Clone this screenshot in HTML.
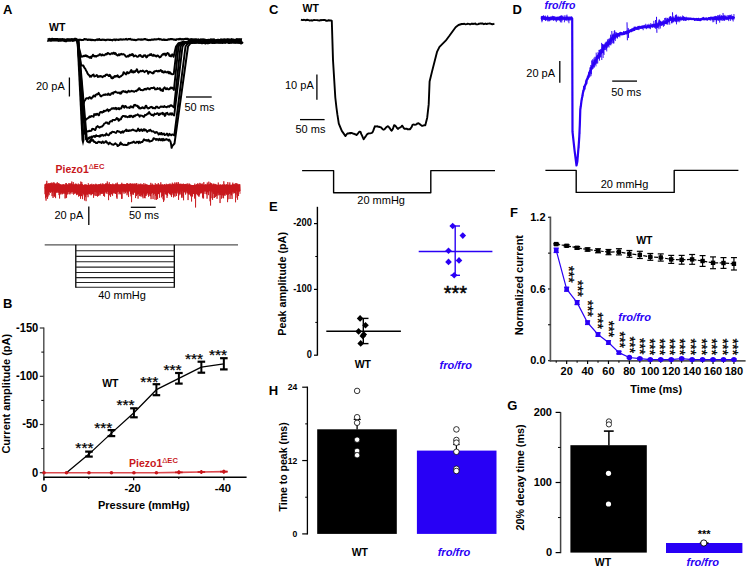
<!DOCTYPE html>
<html><head><meta charset="utf-8"><style>
html,body{margin:0;padding:0;background:#fff;}
body{width:747px;height:567px;overflow:hidden;}
svg{display:block;font-family:"Liberation Sans",sans-serif;}
</style></head><body>
<svg width="747" height="567" viewBox="0 0 747 567">
<rect width="747" height="567" fill="#fff"/>
<text x="3" y="14" font-size="13" font-weight="bold" font-style="normal" fill="#000" text-anchor="start" >A</text>
<text x="49" y="30.5" font-size="10.5" font-weight="bold" font-style="normal" fill="#000" text-anchor="start" >WT</text>
<polyline points="47.5,39.89 48.1,40.13 48.7,39.78 49.3,39.55 49.9,39.71 50.5,40.13 51.1,40.07 51.7,39.67 52.3,39.52 52.9,39.6 53.5,39.89 54.1,39.84 54.7,39.73 55.3,39.69 55.9,39.77 56.5,39.6 57.1,39.68 57.7,39.79 58.3,40.18 58.9,40.01 59.5,40.16 60.1,39.78 60.7,39.99 61.3,39.96 61.9,39.78 62.5,39.79 63.1,40.02 63.7,39.87 64.3,40.1 64.9,40.36 65.5,40.53 66.1,40.64 66.7,40.03 67.3,40.04 67.9,39.81 68.5,40.06 69.1,40 69.7,40 70.3,40.06 70.9,39.85 71.5,39.89 72.1,39.72 72.7,40.28 73.3,40.02 73.9,39.98 74.5,39.54 75.1,39.34 75.7,39.37 76.3,39.78 76.9,40.02 77.5,40.05" fill="none" stroke="#000" stroke-width="3.4" stroke-linejoin="round" />
<polyline points="77,39.76 77.6,40.26 78.2,39.88 78.8,39.69 79.4,39.89 80,39.66 80.6,39.82 81.2,40.08 81.8,39.99 82.4,40.04 83,39.99 83.6,39.79 84.2,39.08 84.8,39.11 85.4,39.42 86,39.21 86.6,39.34 87.2,39.6 87.8,40.02 88.4,39.63 89,39.6 89.6,39.75 90.2,39.92 90.8,39.56 91.4,40.12 92,39.81 92.6,40.08 93.2,39.94 93.8,39.99 94.4,40.32 95,40.29 95.6,40.14 96.2,39.77 96.8,39.64 97.4,39.37 98,40.03 98.6,39.57 99.2,39.05 99.8,39.74 100.4,40.07 101,39.88 101.6,40.04 102.2,39.75 102.8,39.63 103.4,39.81 104,39.89 104.6,39.74 105.2,40.14 105.8,40.17 106.4,40.04 107,39.65 107.6,39.73 108.2,39.67 108.8,39.69 109.4,39.9 110,39.71 110.6,39.79 111.2,39.96 111.8,39.96 112.4,40.42 113,39.73 113.6,39.72 114.2,39.44 114.8,39.54 115.4,40.21 116,39.63 116.6,39.59 117.2,39.8 117.8,39.79 118.4,39.97 119,39.5 119.6,39.81 120.2,39.54 120.8,39.31 121.4,39.6 122,39.75 122.6,39.55 123.2,39.41 123.8,39.47 124.4,39.55 125,39.56 125.6,39.36 126.2,38.93 126.8,39.54 127.4,39.63 128,39.34 128.6,39.09 129.2,39.15 129.8,39.25 130.4,38.9 131,39.53 131.6,39.67 132.2,39.58 132.8,39.69 133.4,39.72 134,39.93 134.6,39.85 135.2,40.06 135.8,40.25 136.4,39.92 137,39.69 137.6,39.44 138.2,39.45 138.8,39.34 139.4,39.44 140,39.58 140.6,39.71 141.2,39.39 141.8,39.72 142.4,39.59 143,39.56 143.6,39.44 144.2,39.02 144.8,39.3 145.4,38.98 146,39.48 146.6,39.52 147.2,39.91 147.8,39.92 148.4,39.94 149,40.12 149.6,39.88 150.2,40.11 150.8,39.85 151.4,39.79 152,39.52 152.6,39.66 153.2,39.76 153.8,39.55 154.4,39.23 155,39.34 155.6,39.51 156.2,39.47 156.8,39.25 157.4,39.18 158,39.25 158.6,38.72 159.2,38.89 159.8,39.47 160.4,39.17 161,39.25 161.6,39.74 162.2,39.81 162.8,39.9 163.4,39.69 164,39.29 164.6,40.05 165.2,39.89 165.8,39.77 166.4,40.04 167,40 167.6,39.79 168.2,39.39 168.8,39.38 169.4,39.37 170,39.24 170.6,39.11 171.2,39 171.8,39.14 172.4,39.12 173,39.34 173.6,39.61 174.2,39.61 174.8,39.54 175.4,39.86 176,39.84 176.6,39.31 177.2,39.18 177.8,39.31 178.4,39.14 179,39.43 179.6,39 180.2,38.71 180.8,39.23 181.4,39.44 182,39.05 182.6,39.22 183.2,39.62 183.8,39.28 184.4,39.05 185,38.91 185.6,38.88 186.2,38.69 186.8,38.87 187.4,38.75 188,39.04 188.6,39.73 189.2,39.36 189.8,39.61 190.4,39.82 191,39.12 191.6,39.28 192.2,39.34 192.8,39.31 193.4,39.56 194,39.41 194.6,39.51 195.2,39.4 195.8,39.39 196.4,39.23 197,39.87 197.6,39.69 198.2,39.34 198.8,39.85 199.4,40.08 200,39.79 200.6,39.51 201.2,39.32 201.8,39.68 202.4,39.52 203,39.33 203.6,39.6 204.2,39.49 204.8,39.47 205.4,39.94 206,39.97 206.6,40.08 207.2,39.94 207.8,40.07 208.4,39.8 209,39.91 209.6,40 210.2,39.7 210.8,39.32 211.4,39.52 212,39.49 212.6,39.64 213.2,39.45 213.8,39.6 214.4,39.8 215,40.25 215.6,40.39 216.2,40.13 216.8,40.23 217.4,39.8 218,39.97 218.6,39.83 219.2,40.03 219.8,39.91 220.4,39.71 221,39.47 221.6,39.8 222.2,39.71 222.8,39.81 223.4,39.82 224,39.22 224.6,39.5 225.2,39.43 225.8,39.57 226.4,39.68 227,39.2 227.6,39.27 228.2,39.37 228.8,39.54 229.4,39.77 230,39.53 230.6,39.49 231.2,39.67 231.8,39.19 232.4,39.79 233,39.48 233.6,39.83 234.2,39.77 234.8,40.14 235.4,40.17 236,39.93 236.6,39.39 237.2,39.5 237.8,39.61 238.4,39.73 239,39.38 239.6,39.27 240.2,39.21 240.8,39.44 241.4,39.29 242,39.39" fill="none" stroke="#000" stroke-width="2.1" stroke-linejoin="round" />
<polyline points="77,39.9 81,55.85 81.6,56.77 82.2,56.46 82.8,56.42 83.4,55.82 84,56.29 84.6,56.15 85.2,55.3 85.8,56.09 86.4,55.5 87,56.44 87.6,56.08 88.2,56.82 88.8,56.89 89.4,57.62 90,57.22 90.6,56.68 91.2,58.07 91.8,56.31 92.4,56.27 93,54.71 93.6,55.59 94.2,56.47 94.8,56.06 95.4,56.03 96,56.72 96.6,55.93 97.2,55.93 97.8,55.57 98.4,55.45 99,55.34 99.6,54.24 100.2,54.13 100.8,54.76 101.4,55.58 102,54.72 102.6,54.55 103.2,55.34 103.8,55.15 104.4,55.38 105,54.73 105.6,54.01 106.2,53.99 106.8,54.49 107.4,53.14 108,52.92 108.6,53.56 109.2,53.72 109.8,54.25 110.4,54.2 111,53.75 111.6,53.16 112.2,53.54 112.8,53.81 113.4,52.8 114,52.66 114.6,53.86 115.2,52.95 115.8,53.43 116.4,54.79 117,54.86 117.6,55.51 118.2,55.24 118.8,54.31 119.4,55.16 120,54.22 120.6,54.59 121.2,53.72 121.8,54.35 122.4,54.47 123,54.2 123.6,54.1 124.2,54.64 124.8,55.08 125.4,56.07 126,56.7 126.6,56.75 127.2,56.46 127.8,55.8 128.4,56.53 129,56.01 129.6,54.71 130.2,55.47 130.8,55.05 131.4,54.35 132,55.2 132.6,54.06 133.2,54.83 133.8,56.46 134.4,56 135,55.73 135.6,55.44 136.2,55.95 136.8,56.64 137.4,56.8 138,56.61 138.6,56.28 139.2,55.17 139.8,55.46 140.4,55.11 141,56.03 141.6,56.75 142.2,56.29 142.8,57.03 143.4,56.41 144,55.31 144.6,55.5 145.2,55.27 145.8,56.5 146.4,57.41 147,57.16 147.6,55.63 148.2,55.4 148.8,55.55 149.4,55.03 150,54.35 150.6,54.98 151.2,53.99 151.8,55.45 152.4,55.71 153,55.94 153.6,54.69 154.2,55.51 154.8,55.86 155.4,55.61 156,56.34 156.6,56.49 157.2,55.5 157.8,55.39 158.4,56.06 159,56.61 159.6,57.43 160.2,57.16 160.8,56.77 161.4,55.74 162,55.06 162.6,54.56 163.2,53.86 163.8,54.42 164.4,54.02 165,53.55 165.6,55.51 166.2,54.99 166.8,53.85 167.4,52.93 168,53.45 168.6,53.52 169.2,55.57 169.8,55.98 170.4,55.39 171,56.35 171.6,55.51 172.2,54.39 173.6,56.8 176,46.5 178.5,43.2 182.5,42.2 182.5,41.88 183.1,42.33 183.7,42.23 184.3,42.11 184.9,41.82 185.5,42.37 186.1,42.22 186.7,41.83 187.3,42.14 187.9,42.12 188.5,42.28 189.1,42.12 189.7,42.24 190.3,42.34 190.9,42.27 191.5,41.77 192.1,42.07 192.7,42.48 193.3,42.47 193.9,42.6 194.5,42.64 195.1,42.36 195.7,42.57 196.3,42.33 196.9,41.98 197.5,41.69 198.1,42.16 198.7,42.35 199.3,42.44 199.9,42.16 200.5,41.64 201.1,42.05 201.7,42.06 202.3,41.92 202.9,41.83 203.5,41.79 204.1,41.4 204.7,41.86 205.3,42.16 205.9,42.38 206.5,42.17 207.1,41.8 207.7,41.54 208.3,41.68 208.9,42.33 209.5,42.5 210.1,42.35 210.7,42.38 211.3,42.49 211.9,42.35 212.5,42.31 213.1,42.28 213.7,42.04 214.3,41.74 214.9,41.72 215.5,42.19 216.1,41.7 216.7,41.73 217.3,41.75 217.9,41.89 218.5,41.84 219.1,42.15 219.7,42.01 220.3,42.03 220.9,42.24 221.5,41.78 222.1,42.19 222.7,42.42 223.3,41.91 223.9,41.94 224.5,41.78 225.1,41.79 225.7,42.11 226.3,41.56 226.9,41.99 227.5,42.13 228.1,42.09 228.7,42.68 229.3,42.29 229.9,41.77 230.5,41.98 231.1,42.04 231.7,41.86 232.3,41.34 232.9,41.09 233.5,41.91 234.1,41.54 234.7,42.11 235.3,42.3 235.9,41.58 236.5,41.8 237.1,42.06 237.7,42.35 238.3,42.58 238.9,42.7 239.5,42.41 240.1,42.18 240.7,42.05 241.3,42.17 241.9,41.84" fill="none" stroke="#000" stroke-width="1.95" stroke-linejoin="round" />
<polyline points="77.2,39.9 81,64.23 81.6,65.51 82.2,65.42 82.8,65.56 83.4,65.57 84,67.03 84.6,68.14 85.2,68.56 85.8,69.96 86.4,71.08 87,72.02 87.6,73.54 88.2,74.5 88.8,74.86 89.4,75.64 90,76.71 90.6,75.8 91.2,76.63 91.8,75.86 92.4,75.09 93,75.13 93.6,74.52 94.2,76.44 94.8,76.33 95.4,76.13 96,75.71 96.6,75.08 97.2,75.43 97.8,76.97 98.4,76.28 99,76.83 99.6,76.28 100.2,75.94 100.8,76.53 101.4,76.22 102,76.72 102.6,77.18 103.2,76.49 103.8,76.02 104.4,76.07 105,76.24 105.6,74.82 106.2,75.01 106.8,74.39 107.4,74.57 108,75.23 108.6,76.03 109.2,76.1 109.8,74.78 110.4,75.58 111,77.04 111.6,78.17 112.2,78.38 112.8,77.24 113.4,77.85 114,76.87 114.6,76.04 115.2,76.76 115.8,75.88 116.4,76 117,76.54 117.6,75.26 118.2,76.3 118.8,77.01 119.4,77.26 120,76.79 120.6,76.27 121.2,76.2 121.8,75.38 122.4,75.15 123,74.21 123.6,72.14 124.2,72.49 124.8,73.52 125.4,73.62 126,74.39 126.6,73.23 127.2,72.02 127.8,73.21 128.4,73.34 129,72.44 129.6,72.67 130.2,71.96 130.8,70.51 131.4,70.02 132,72.17 132.6,71.55 133.2,72.58 133.8,71.23 134.4,72.16 135,71.93 135.6,70.84 136.2,70.88 136.8,69.17 137.4,70.31 138,72.06 138.6,72.64 139.2,71.9 139.8,71.49 140.4,70.85 141,71.33 141.6,71.15 142.2,71.15 142.8,70.55 143.4,70.97 144,71.77 144.6,72.13 145.2,71.57 145.8,71.15 146.4,70.63 147,70.9 147.6,71.49 148.2,73.87 148.8,72.72 149.4,71.75 150,71.79 150.6,72.12 151.2,72.56 151.8,72.79 152.4,73.4 153,72.58 153.6,73.32 154.2,71.36 154.8,71.3 155.4,71.36 156,70.95 156.6,70.81 157.2,71.11 157.8,71.56 158.4,70.73 159,71.22 159.6,71.24 160.2,70.45 160.8,69.98 161.4,70.95 162,71.87 162.6,71.09 163.2,72.48 163.8,72.5 164.4,72.37 165,71.33 165.6,72.18 166.2,72.44 166.8,72.19 167.4,72.24 168,71.64 168.6,73.29 169.2,73.08 169.8,72.11 170.4,73.62 171,73.26 171.6,73.97 172.2,74.35 173.75,74 177,46.5 179.5,43.2 183.5,42.2 183.5,42.7 184.1,42.72 184.7,43 185.3,42.49 185.9,42.67 186.5,42.63 187.1,42.3 187.7,41.86 188.3,41.92 188.9,41.77 189.5,41.8 190.1,41.8 190.7,41.76 191.3,41.94 191.9,42.06 192.5,41.82 193.1,41.73 193.7,41.95 194.3,41.88 194.9,41.85 195.5,41.7 196.1,41.36 196.7,41.59 197.3,41.52 197.9,41.73 198.5,41.8 199.1,41.81 199.7,42.18 200.3,41.92 200.9,42.32 201.5,42.33 202.1,42.98 202.7,42.38 203.3,42.08 203.9,42.2 204.5,42.38 205.1,42.19 205.7,42.37 206.3,42.29 206.9,41.81 207.5,42.01 208.1,42.28 208.7,42.32 209.3,42.2 209.9,41.91 210.5,42.18 211.1,42.55 211.7,41.97 212.3,42.19 212.9,41.64 213.5,41.87 214.1,41.2 214.7,41.5 215.3,41.91 215.9,41.57 216.5,41.39 217.1,41.69 217.7,41.77 218.3,41.97 218.9,42.39 219.5,41.93 220.1,42.04 220.7,41.5 221.3,40.87 221.9,41.07 222.5,40.69 223.1,41.37 223.7,41.88 224.3,42.09 224.9,41.61 225.5,41.56 226.1,41.27 226.7,41.52 227.3,41.43 227.9,41.98 228.5,42.11 229.1,41.72 229.7,42.25 230.3,42.22 230.9,42.38 231.5,42.24 232.1,42.52 232.7,42.63 233.3,42.61 233.9,42.76 234.5,42.64 235.1,42.48 235.7,42.08 236.3,41.45 236.9,42.03 237.5,42.19 238.1,41.81 238.7,42.12 239.3,42.12 239.9,42.1 240.5,42.58 241.1,42.63 241.7,41.99" fill="none" stroke="#000" stroke-width="1.95" stroke-linejoin="round" />
<polyline points="77.4,39.9 82.5,104.26 83.1,104.3 83.7,103.06 84.3,101.15 84.9,100.43 85.5,99.54 86.1,98.43 86.7,98.29 87.3,98.25 87.9,98.25 88.5,98.64 89.1,97.57 89.7,97.15 90.3,97.5 90.9,98.46 91.5,98.61 92.1,97.46 92.7,97.27 93.3,96.02 93.9,95.43 94.5,95.99 95.1,96.59 95.7,94.94 96.3,94.55 96.9,94.19 97.5,94.52 98.1,93.6 98.7,92.9 99.3,94.31 99.9,94.9 100.5,96.15 101.1,96.48 101.7,95.65 102.3,95.63 102.9,95.31 103.5,94.69 104.1,94.69 104.7,95.01 105.3,94.32 105.9,94.79 106.5,94.6 107.1,94.35 107.7,94.89 108.3,93.53 108.9,94.08 109.5,94.87 110.1,94.99 110.7,94.57 111.3,93.35 111.9,93.36 112.5,92.77 113.1,93.83 113.7,92.6 114.3,92.11 114.9,92.37 115.5,91.55 116.1,92.06 116.7,92.32 117.3,92.74 117.9,92.93 118.5,92.73 119.1,92.49 119.7,93.37 120.3,92.42 120.9,93.61 121.5,92.88 122.1,91.46 122.7,91.69 123.3,91.01 123.9,91.41 124.5,91.41 125.1,92.07 125.7,91.4 126.3,92.4 126.9,92.59 127.5,91.81 128.1,91.39 128.7,90.73 129.3,91.56 129.9,91.69 130.5,91.47 131.1,91.27 131.7,90.82 132.3,91.3 132.9,91.32 133.5,91.31 134.1,91.91 134.7,91.35 135.3,91.18 135.9,90.78 136.5,91.24 137.1,90.45 137.7,89.55 138.3,89.78 138.9,88.28 139.5,88.33 140.1,89.4 140.7,90.11 141.3,89.94 141.9,90.06 142.5,90.31 143.1,90.19 143.7,89.91 144.3,88.92 144.9,89.19 145.5,88.8 146.1,89.49 146.7,89.38 147.3,88.32 147.9,88.2 148.5,88.33 149.1,89.18 149.7,89.32 150.3,88.51 150.9,88.11 151.5,87.91 152.1,88.25 152.7,87.9 153.3,87.97 153.9,87.4 154.5,87.99 155.1,89.46 155.7,89.21 156.3,89.38 156.9,89.17 157.5,88.06 158.1,88.87 158.7,88.88 159.3,88.69 159.9,88.13 160.5,90.19 161.1,89.57 161.7,90.57 162.3,89.69 162.9,91.01 163.5,88.44 164.1,88.02 164.7,87.39 165.3,88.39 165.9,89.22 166.5,89.03 167.1,88.18 167.7,89.01 168.3,89.22 168.9,89.47 169.5,89.22 170.1,88.11 170.7,87.62 171.3,88.29 171.9,87.51 172.5,87.86 173.9,90 178.5,46.5 181,43.2 185,42.2 185,42.15 185.6,42.31 186.2,42.15 186.8,42.48 187.4,42.32 188,41.85 188.6,41.66 189.2,42 189.8,41.81 190.4,41.48 191,41.88 191.6,41.99 192.2,42.3 192.8,42.65 193.4,42.04 194,42.21 194.6,41.96 195.2,41.97 195.8,42.16 196.4,42.2 197,42.1 197.6,42.15 198.2,42.21 198.8,41.29 199.4,41.88 200,42.18 200.6,42.26 201.2,42.16 201.8,42.58 202.4,42.3 203,42.37 203.6,42.06 204.2,41.52 204.8,41.82 205.4,42.03 206,41.52 206.6,42.12 207.2,42.26 207.8,42.26 208.4,41.91 209,41.62 209.6,41.73 210.2,41.91 210.8,41.87 211.4,41.92 212,42.08 212.6,42.13 213.2,42.24 213.8,42.13 214.4,41.6 215,41.88 215.6,42.05 216.2,42.33 216.8,42.33 217.4,41.88 218,42.08 218.6,42.41 219.2,42.79 219.8,42.49 220.4,42.38 221,42.24 221.6,42.48 222.2,42.43 222.8,43 223.4,42.68 224,42.34 224.6,42.57 225.2,42.58 225.8,42.16 226.4,42.13 227,41.94 227.6,41.56 228.2,41.91 228.8,41.78 229.4,41.92 230,42.14 230.6,41.89 231.2,42.16 231.8,41.98 232.4,42.07 233,41.92 233.6,41.65 234.2,41.19 234.8,41.32 235.4,41.39 236,42.37 236.6,42.14 237.2,42.18 237.8,41.93 238.4,42.29 239,42.38 239.6,42.3 240.2,42.25 240.8,41.52 241.4,41.48 242,41.62" fill="none" stroke="#000" stroke-width="1.95" stroke-linejoin="round" />
<polyline points="77.6,39.9 84,122.22 84.6,120.85 85.2,120.86 85.8,119.52 86.4,119.4 87,118.71 87.6,118.4 88.2,117.93 88.8,117.66 89.4,116.43 90,117.17 90.6,116.87 91.2,115.91 91.8,116.08 92.4,116.33 93,116.2 93.6,116.76 94.2,114.11 94.8,114.93 95.4,114.15 96,115.06 96.6,113.86 97.2,113.73 97.8,114.18 98.4,115.21 99,115.29 99.6,113.11 100.2,112.15 100.8,111.96 101.4,111.91 102,112.67 102.6,112 103.2,112.1 103.8,110.73 104.4,111.53 105,110.84 105.6,110.62 106.2,110.66 106.8,110 107.4,109.22 108,110.13 108.6,111.14 109.2,110.01 109.8,110.26 110.4,109.6 111,109.27 111.6,108.47 112.2,108.32 112.8,108.8 113.4,108.1 114,108.18 114.6,108.77 115.2,108.14 115.8,107.78 116.4,109.3 117,108.36 117.6,108.84 118.2,108.9 118.8,108.01 119.4,109.26 120,108.48 120.6,108.34 121.2,108.47 121.8,106.94 122.4,105.71 123,105.76 123.6,106.97 124.2,107.71 124.8,106.3 125.4,105.93 126,106.53 126.6,107.6 127.2,107.62 127.8,107.62 128.4,107.48 129,107.67 129.6,108.02 130.2,106.75 130.8,106.25 131.4,106.63 132,107.3 132.6,106.94 133.2,107.5 133.8,105.26 134.4,105.49 135,104.73 135.6,105.63 136.2,105.57 136.8,105.93 137.4,105.72 138,107.24 138.6,106.53 139.2,108.41 139.8,107.87 140.4,108.45 141,108.37 141.6,107.73 142.2,107.52 142.8,107.21 143.4,108.16 144,108.36 144.6,108.27 145.2,106.76 145.8,105.65 146.4,105.96 147,107.66 147.6,107.75 148.2,108.55 148.8,108.03 149.4,108.12 150,107.37 150.6,107.05 151.2,107.14 151.8,106.84 152.4,107.89 153,108.35 153.6,107.77 154.2,107.87 154.8,108.39 155.4,108.37 156,106.76 156.6,106.67 157.2,106.61 157.8,107.56 158.4,107.84 159,107.94 159.6,107.43 160.2,106.95 160.8,106.4 161.4,106.74 162,106.91 162.6,106.57 163.2,106.76 163.8,107.02 164.4,106.05 165,106.73 165.6,106.92 166.2,106.98 166.8,107.22 167.4,106.66 168,106.17 168.6,106.14 169.2,106.86 169.8,106.15 170.4,105.28 171,105.76 171.6,105.3 172.2,105.94 174.05,107.4 180.5,46.5 183,43.2 187,42.2 187,41.93 187.6,42.26 188.2,41.87 188.8,42.16 189.4,41.87 190,41.91 190.6,42.44 191.2,42.25 191.8,42.26 192.4,42.06 193,42.16 193.6,42.36 194.2,42.38 194.8,42.7 195.4,42.37 196,41.95 196.6,42.18 197.2,41.9 197.8,42.24 198.4,42.17 199,42.71 199.6,42.57 200.2,42.11 200.8,41.87 201.4,41.89 202,42.06 202.6,41.56 203.2,41.91 203.8,41.94 204.4,42.18 205,42.05 205.6,42.31 206.2,42.42 206.8,42.22 207.4,42.07 208,41.64 208.6,41.25 209.2,41.69 209.8,41.35 210.4,41.79 211,42.13 211.6,42.13 212.2,42.39 212.8,42.97 213.4,42 214,42.01 214.6,42.4 215.2,41.7 215.8,41.39 216.4,41.53 217,41.8 217.6,42.04 218.2,42.15 218.8,42 219.4,42.05 220,42 220.6,41.86 221.2,42.37 221.8,42.37 222.4,41.79 223,42.01 223.6,41.79 224.2,41.77 224.8,42.38 225.4,42.49 226,42.22 226.6,41.96 227.2,42.34 227.8,42.42 228.4,42.69 229,42.23 229.6,42.94 230.2,42.16 230.8,42.24 231.4,42.29 232,42.05 232.6,42.07 233.2,41.54 233.8,41.79 234.4,41.85 235,42.43 235.6,42.25 236.2,42.67 236.8,42.54 237.4,42.39 238,42.59 238.6,42.46 239.2,42.71 239.8,42.49 240.4,41.77 241,42.16 241.6,41.7" fill="none" stroke="#000" stroke-width="1.95" stroke-linejoin="round" />
<polyline points="77.8,39.9 85,133.86 85.6,132.68 86.2,131.26 86.8,131.09 87.4,131.51 88,131.41 88.6,131.3 89.2,130.65 89.8,130.94 90.4,130.91 91,130.81 91.6,130.53 92.2,128.83 92.8,128.9 93.4,128.95 94,129.27 94.6,129.76 95.2,129.98 95.8,128.8 96.4,126.98 97,126.83 97.6,126 98.2,126.78 98.8,127 99.4,127.66 100,127.37 100.6,126.86 101.2,126.7 101.8,126.56 102.4,126.31 103,125.41 103.6,124.88 104.2,123.68 104.8,123.43 105.4,123.05 106,122.37 106.6,122.79 107.2,122.51 107.8,123.49 108.4,123.74 109,123.81 109.6,122.08 110.2,121.58 110.8,121.17 111.4,121.2 112,121.42 112.6,119.87 113.2,119.87 113.8,119.89 114.4,120.17 115,120.01 115.6,119.65 116.2,119.07 116.8,117.97 117.4,118.93 118,118.66 118.6,120.73 119.2,120.46 119.8,119.5 120.4,118.9 121,119.14 121.6,117.2 122.2,116.98 122.8,115.9 123.4,116.08 124,116.07 124.6,116.2 125.2,116.78 125.8,116.11 126.4,116.85 127,116.79 127.6,117.18 128.2,116.88 128.8,116.59 129.4,115.81 130,116.96 130.6,115.82 131.2,115.68 131.8,116.34 132.4,116.76 133,117.25 133.6,115.9 134.2,115.82 134.8,116.33 135.4,115.32 136,115.25 136.6,115.11 137.2,114.88 137.8,114.31 138.4,115.2 139,115.26 139.6,116.7 140.2,115.56 140.8,115.57 141.4,115.63 142,115.67 142.6,116.3 143.2,116.18 143.8,116.9 144.4,116.05 145,114.88 145.6,115.33 146.2,114.85 146.8,114.54 147.4,113.68 148,113.73 148.6,112.52 149.2,112.15 149.8,113.56 150.4,113.75 151,114.5 151.6,115.11 152.2,114.7 152.8,114.92 153.4,115.73 154,115 154.6,113.61 155.2,114.17 155.8,114.12 156.4,114.05 157,113.21 157.6,113.23 158.2,113.87 158.8,114.99 159.4,114.77 160,113.61 160.6,114.14 161.2,113.58 161.8,113.47 162.4,112.79 163,114.31 163.6,113.4 164.2,113.98 164.8,115.93 165.4,115.44 166,113.32 166.6,113.21 167.2,112.73 167.8,113.99 168.4,114.47 169,114.45 169.6,114.63 170.2,113.33 170.8,113.51 171.4,114.67 172,113.26 172.6,114.25 174.2,115.5 182.5,46.5 185,43.2 189,42.2 189,42.19 189.6,42.53 190.2,42.15 190.8,42.26 191.4,42.27 192,41.76 192.6,42.01 193.2,41.76 193.8,42.06 194.4,42.36 195,42.57 195.6,42.19 196.2,42.32 196.8,42.35 197.4,42.64 198,42.61 198.6,42.13 199.2,41.86 199.8,41.76 200.4,41.81 201,41.53 201.6,42.5 202.2,42.41 202.8,42.21 203.4,42.19 204,42.09 204.6,41.64 205.2,41.59 205.8,42.09 206.4,42.55 207,42.49 207.6,42.11 208.2,41.67 208.8,41.23 209.4,41.69 210,41.84 210.6,41.96 211.2,42.23 211.8,42.31 212.4,42.26 213,42.4 213.6,42.62 214.2,42.63 214.8,42.91 215.4,42.17 216,41.94 216.6,42.26 217.2,41.82 217.8,41.87 218.4,41.91 219,41.69 219.6,42.09 220.2,42.11 220.8,42.52 221.4,42.37 222,42.61 222.6,42.32 223.2,42.09 223.8,41.74 224.4,42.04 225,42.02 225.6,41.81 226.2,41.8 226.8,41.71 227.4,41.9 228,42.01 228.6,41.78 229.2,41.82 229.8,42.46 230.4,42.47 231,42.32 231.6,42.58 232.2,42.18 232.8,42.16 233.4,42.25 234,41.92 234.6,41.49 235.2,42.37 235.8,42.22 236.4,42.14 237,41.97 237.6,42.06 238.2,41.75 238.8,41.79 239.4,41.87 240,42.26 240.6,42.18 241.2,41.97 241.8,41.81" fill="none" stroke="#000" stroke-width="1.95" stroke-linejoin="round" />
<polyline points="78,39.9 86,139.24 86.6,139.71 87.2,140.59 87.8,138.98 88.4,137.85 89,138.49 89.6,137.35 90.2,137.75 90.8,137.65 91.4,136.57 92,137.89 92.6,136.42 93.2,136.43 93.8,135.9 94.4,135.89 95,136.94 95.6,135.75 96.2,135.24 96.8,136.18 97.4,135.99 98,135.99 98.6,136.35 99.2,135.89 99.8,136.76 100.4,135.2 101,135.88 101.6,135.06 102.2,134.76 102.8,135.17 103.4,135.7 104,135.26 104.6,135.07 105.2,135.4 105.8,134.91 106.4,133.44 107,134.41 107.6,134.86 108.2,135.18 108.8,135.24 109.4,134.39 110,133.2 110.6,132.79 111.2,133.21 111.8,132.24 112.4,131.62 113,131.85 113.6,131.91 114.2,132.01 114.8,132.31 115.4,132.54 116,132.92 116.6,132.04 117.2,131 117.8,131.07 118.4,131.35 119,131.79 119.6,131.59 120.2,132.19 120.8,132.89 121.4,132.02 122,132.33 122.6,131.26 123.2,132.61 123.8,131.88 124.4,131.12 125,130.78 125.6,130.63 126.2,129.6 126.8,131.08 127.4,130.35 128,130.44 128.6,131.06 129.2,130.34 129.8,130.71 130.4,130.51 131,130.5 131.6,130.22 132.2,130 132.8,129.58 133.4,129.78 134,130.4 134.6,130.45 135.2,130.57 135.8,130.98 136.4,131.25 137,130.85 137.6,129.85 138.2,128.52 138.8,130.13 139.4,130.94 140,130.06 140.6,130.57 141.2,129.39 141.8,130.28 142.4,130.94 143,130.31 143.6,129.32 144.2,130.52 144.8,129.29 145.4,129.97 146,130.06 146.6,131.32 147.2,131.89 147.8,130.91 148.4,130.82 149,130.32 149.6,130.84 150.2,129.68 150.8,130.51 151.4,130.87 152,131.41 152.6,131.39 153.2,131.29 153.8,131.79 154.4,132.26 155,133.02 155.6,132.2 156.2,132.42 156.8,132.08 157.4,132.75 158,133.2 158.6,134.52 159.2,133.52 159.8,133.25 160.4,134.22 161,133.23 161.6,132.99 162.2,134.56 162.8,134.12 163.4,133.75 164,133.56 164.6,135.03 165.2,134.87 165.8,134.59 166.4,134.58 167,133.51 167.6,134.71 168.2,135.65 168.8,135.38 169.4,133.85 170,134.28 170.6,134.65 171.2,135.27 171.8,134.59 172.4,134.4 174.35,135.4 185.5,46.5 188,43.2 192,42.2 192,41.95 192.6,41.89 193.2,41.83 193.8,41.67 194.4,41.88 195,42.19 195.6,42.29 196.2,42.3 196.8,42.19 197.4,41.94 198,42.1 198.6,42.13 199.2,42.39 199.8,41.99 200.4,42.17 201,42.65 201.6,42.53 202.2,42.32 202.8,42.42 203.4,42.7 204,42.51 204.6,42.15 205.2,41.9 205.8,42.02 206.4,41.67 207,42.22 207.6,41.83 208.2,41.77 208.8,42.43 209.4,41.97 210,41.99 210.6,41.98 211.2,41.53 211.8,42.31 212.4,42.16 213,42.15 213.6,41.97 214.2,41.71 214.8,41.82 215.4,41.58 216,41.73 216.6,42.14 217.2,42.32 217.8,42.45 218.4,42.15 219,42.12 219.6,42.48 220.2,42.45 220.8,41.99 221.4,41.66 222,41.71 222.6,41.88 223.2,41.72 223.8,41.83 224.4,42.09 225,41.97 225.6,42.15 226.2,41.74 226.8,41.76 227.4,42.24 228,42.37 228.6,42.33 229.2,42.2 229.8,42.06 230.4,41.49 231,41.49 231.6,42.18 232.2,42.01 232.8,42.13 233.4,41.88 234,41.8 234.6,42.06 235.2,42.15 235.8,42.15 236.4,42.28 237,42.24 237.6,42.02 238.2,42.25 238.8,41.63 239.4,41.84 240,41.7 240.6,42.05 241.2,42.13 241.8,41.79" fill="none" stroke="#000" stroke-width="1.95" stroke-linejoin="round" />
<polyline points="78.2,39.9 87,141.18 87.6,141.8 88.2,142.2 88.8,142.2 89.4,141.4 90,142.39 90.6,139.96 91.2,139.14 91.8,140.84 92.4,140.48 93,139.94 93.6,140.99 94.2,142.06 94.8,141.81 95.4,142.25 96,143.05 96.6,142.69 97.2,143.02 97.8,142.39 98.4,141.7 99,141.76 99.6,142.17 100.2,142.15 100.8,142.18 101.4,143.04 102,142.7 102.6,141.45 103.2,142.19 103.8,142.92 104.4,142.66 105,142.13 105.6,141.29 106.2,141.24 106.8,142.65 107.4,142.6 108,143.14 108.6,144.13 109.2,143.42 109.8,142.58 110.4,143.27 111,143.59 111.6,143.82 112.2,144.53 112.8,144.62 113.4,144.81 114,144.44 114.6,144.04 115.2,143.33 115.8,143.85 116.4,144.25 117,144.67 117.6,146.06 118.2,145.9 118.8,145.22 119.4,145.11 120,143.73 120.6,142.47 121.2,144.3 121.8,143.75 122.4,144.25 123,144.74 123.6,144.92 124.2,144.91 124.8,144.67 125.4,144.96 126,144.93 126.6,145.12 127.2,144.72 127.8,144.59 128.4,142.83 129,143.31 129.6,143.45 130.2,142.99 130.8,142.95 131.4,142.75 132,142.84 132.6,142.18 133.2,141.84 133.8,141.48 134.4,142.65 135,142.69 135.6,142.92 136.2,142.64 136.8,141.74 137.4,142.05 138,142.09 138.6,143.12 139.2,141.62 139.8,142.21 140.4,142.72 141,142.2 141.6,142.07 142.2,142.04 142.8,141.31 143.4,140.34 144,139.36 144.6,139.61 145.2,140.41 145.8,140.21 146.4,140.07 147,140.77 147.6,140.7 148.2,139.67 148.8,140.04 149.4,141.61 150,141.48 150.6,141.17 151.2,141.11 151.8,140.78 152.4,140.59 153,139.51 153.6,138.15 154.2,138.45 154.8,138.58 155.4,139.21 156,140 156.6,138.98 157.2,139.21 157.8,139.22 158.4,140.3 159,139.32 159.6,138.79 160.2,140.07 160.8,140.21 161.4,139.09 162,139.29 162.6,140.46 163.2,138.85 163.8,140.2 164.4,140.24 165,139.45 165.6,139.83 166.2,139.12 166.8,139.54 167.4,139.44 168,139.91 168.6,140.72 169.2,139.5 169.8,140.56 170.4,141.19 171,143.69 171.6,147.84 172.2,146.13 174.5,143.5 188,46.5 190.5,43.2 194.5,42.2 194.5,41.9 195.1,42.37 195.7,42.23 196.3,42.12 196.9,42.01 197.5,42.4 198.1,42.6 198.7,42.35 199.3,42.48 199.9,41.88 200.5,42 201.1,41.86 201.7,42.29 202.3,42.63 202.9,42.5 203.5,42.68 204.1,42.14 204.7,42.33 205.3,42.44 205.9,42.26 206.5,42.65 207.1,42.66 207.7,42.5 208.3,42.71 208.9,42.42 209.5,42.86 210.1,42.22 210.7,41.8 211.3,41.82 211.9,42.09 212.5,42.01 213.1,41.9 213.7,42.75 214.3,42.83 214.9,42.61 215.5,42.31 216.1,42.13 216.7,42.18 217.3,42.5 217.9,42.48 218.5,42.52 219.1,41.67 219.7,42.07 220.3,41.92 220.9,42.39 221.5,42.35 222.1,42.1 222.7,42.1 223.3,42.1 223.9,42.26 224.5,42.41 225.1,42.17 225.7,42.49 226.3,42.26 226.9,42.09 227.5,41.6 228.1,41.87 228.7,42.48 229.3,42.42 229.9,42.22 230.5,42.06 231.1,42.25 231.7,41.78 232.3,41.59 232.9,41.99 233.5,41.77 234.1,42.28 234.7,42.16 235.3,42.05 235.9,41.74 236.5,41.58 237.1,41.5 237.7,41.81 238.3,41.57 238.9,41.64 239.5,41.99 240.1,41.86 240.7,42.09 241.3,41.28 241.9,41.29" fill="none" stroke="#000" stroke-width="1.95" stroke-linejoin="round" />
<polyline points="188,41.58 188.5,41.45 189,41 189.5,41.37 190,41.26 190.5,41.39 191,41.53 191.5,42.14 192,41.69 192.5,41.56 193,41.23 193.5,41.1 194,41.64 194.5,41.14 195,41.51 195.5,41.47 196,41.65 196.5,41.67 197,41.73 197.5,40.9 198,41.36 198.5,41.06 199,40.73 199.5,40.74 200,40.84 200.5,41.91 201,42.05 201.5,42.48 202,42.15 202.5,42.41 203,41.84 203.5,41.62 204,41.59 204.5,41.01 205,42.19 205.5,42.69 206,42.44 206.5,41.58 207,42.08 207.5,42.14 208,42.66 208.5,42.33 209,42 209.5,41.07 210,41.59 210.5,41.19 211,40.94 211.5,41.33 212,40.95 212.5,41.32 213,41.09 213.5,40.68 214,40.3 214.5,40.73 215,41.71 215.5,41.64 216,41.48 216.5,41.7 217,41.46 217.5,40.96 218,40.97 218.5,41.21 219,41.13 219.5,40.78 220,40.82 220.5,41.33 221,40.44 221.5,40.33 222,40.48 222.5,40.55 223,41.03 223.5,41.32 224,41.38 224.5,41.54 225,41.41 225.5,40.98 226,40.99 226.5,41.28 227,41.19 227.5,40.44 228,40.67 228.5,40.63 229,40.69 229.5,40.95 230,41.02 230.5,41.28 231,40.72 231.5,40.93 232,40.44 232.5,40.67 233,41.28 233.5,40.76 234,40.48 234.5,41.01 235,40.65 235.5,40.54 236,40.89 236.5,40.34 237,40.07 237.5,40.69 238,40.23 238.5,40.83 239,40.32 239.5,40.9 240,41.62 240.5,42.09 241,42.75 241.5,42.5 242,41.98 242.5,41.5" fill="none" stroke="#000" stroke-width="3.4" stroke-linejoin="round" />
<path d="M76.5 39.5 L79.5 39.5 L84.5 140 L83 146 L81.5 140 Z" fill="#000"/>
<line x1="69.4" y1="77.5" x2="69.4" y2="96.5" stroke="#000" stroke-width="1.3"/>
<text x="36" y="89.5" font-size="11" font-weight="normal" font-style="normal" fill="#000" text-anchor="start" >20 pA</text>
<line x1="186" y1="97" x2="211.7" y2="97" stroke="#000" stroke-width="1.3"/>
<text x="184.5" y="110.8" font-size="11" font-weight="normal" font-style="normal" fill="#000" text-anchor="start" >50 ms</text>
<text x="55.5" y="172.9" font-size="10.5" font-weight="bold" font-style="normal" fill="#c8171c" text-anchor="start" >Piezo1<tspan font-size="7.6" dy="-3.6" font-weight="normal">Δ</tspan><tspan font-size="7.6">EC</tspan></text>
<polyline points="44.8,184.42 45.05,194.22 45.3,184.25 45.55,198.2 45.8,184.17 46.05,200.63 46.3,183.18 46.55,196.95 46.8,180.84 47.05,190.84 47.3,183.79 47.55,198.85 47.8,184.07 48.05,196.5 48.3,183.15 48.55,193.57 48.8,184.13 49.05,195.14 49.3,183.27 49.55,191.83 49.8,183.82 50.05,192.05 50.3,183.34 50.55,192.87 50.8,183.14 51.05,190.43 51.3,182.6 51.55,191.73 51.8,184.11 52.05,196.11 52.3,182.93 52.55,192.74 52.8,184.29 53.05,197.96 53.3,182.34 53.55,191.11 53.8,183.74 54.05,196.25 54.3,182.6 54.55,196.57 54.8,183.67 55.05,196.23 55.3,183.85 55.55,198.12 55.8,183.72 56.05,191.7 56.3,183.64 56.55,192.43 56.8,183.53 57.05,193.01 57.3,182.16 57.55,191.47 57.8,184.73 58.05,191.29 58.3,183.74 58.55,192.69 58.8,183 59.05,195.09 59.3,183.93 59.55,198.48 59.8,184.32 60.05,192.71 60.3,184.17 60.55,194.35 60.8,184.98 61.05,191.96 61.3,184.78 61.55,193.35 61.8,184.66 62.05,194.41 62.3,184.68 62.55,193.86 62.8,184.7 63.05,192.8 63.3,184.29 63.55,193.58 63.8,184.45 64.05,191.64 64.3,184.73 64.55,193.61 64.8,184.73 65.05,198.45 65.3,184.9 65.55,194.14 65.8,183.29 66.05,198.09 66.3,183.05 66.55,197.62 66.8,184.4 67.05,192.14 67.3,184.39 67.55,194.42 67.8,184.9 68.05,192.28 68.3,184.83 68.55,191.96 68.8,183.22 69.05,194.17 69.3,183.42 69.55,191.45 69.8,184.33 70.05,194.33 70.3,184.26 70.55,192.87 70.8,183.33 71.05,191.76 71.3,183.26 71.55,192.23 71.8,181.5 72.05,193.69 72.3,184.69 72.55,191.73 72.8,183.95 73.05,191.53 73.3,182.12 73.55,194.61 73.8,184.66 74.05,192.07 74.3,184.58 74.55,193.75 74.8,184.55 75.05,192.65 75.3,183.6 75.55,192.82 75.8,184.59 76.05,193.92 76.3,183.81 76.55,195.11 76.8,184.28 77.05,193.92 77.3,184.7 77.55,194.63 77.8,184.96 78.05,192.51 78.3,183.57 78.55,196.57 78.8,184.97 79.05,193.9 79.3,184.67 79.55,195.91 79.8,184.49 80.05,196.16 80.3,184.04 80.55,198.75 80.8,181.52 81.05,195.64 81.3,184.07 81.55,196.11 81.8,182.08 82.05,193.17 82.3,183.97 82.55,199.1 82.8,184.69 83.05,193.12 83.3,185.43 83.55,194.13 83.8,185.47 84.05,195.38 84.3,184.96 84.55,200.42 84.8,184.26 85.05,195.04 85.3,185.51 85.55,197.1 85.8,184.38 86.05,201.17 86.3,184.64 86.55,194.3 86.8,185.32 87.05,194.71 87.3,185.34 87.55,194.53 87.8,185.2 88.05,197.19 88.3,183.26 88.55,193.67 88.8,185.18 89.05,193.69 89.3,185.5 89.55,194.11 89.8,184.74 90.05,194.41 90.3,184.57 90.55,193.56 90.8,184.33 91.05,195.28 91.3,185.4 91.55,194.5 91.8,183.75 92.05,193.73 92.3,185.39 92.55,194.11 92.8,184.83 93.05,193.43 93.3,184.07 93.55,197.77 93.8,185.1 94.05,194.74 94.3,184.47 94.55,191.88 94.8,184.94 95.05,195.79 95.3,184.76 95.55,192.04 95.8,183.73 96.05,195.86 96.3,184.31 96.55,192.56 96.8,184.7 97.05,195.97 97.3,184.9 97.55,196.62 97.8,184.58 98.05,191.57 98.3,184.7 98.55,195.87 98.8,184.17 99.05,194.66 99.3,184.65 99.55,192.38 99.8,184.18 100.05,195.43 100.3,184.26 100.55,193.76 100.8,183.55 101.05,193.01 101.3,184.77 101.55,193.86 101.8,184.63 102.05,191.5 102.3,184.7 102.55,193.77 102.8,183.3 103.05,192.2 103.3,184.24 103.55,195.99 103.8,184.7 104.05,192.8 104.3,184.72 104.55,196.66 104.8,184.24 105.05,193.35 105.3,184.25 105.55,191.69 105.8,183.21 106.05,191.9 106.3,183.97 106.55,193.55 106.8,183.47 107.05,191.56 107.3,181.47 107.55,191.32 107.8,184.31 108.05,194.08 108.3,184.49 108.55,200.13 108.8,183.79 109.05,192.39 109.3,182.31 109.55,195.27 109.8,184.88 110.05,192.31 110.3,184.12 110.55,196.85 110.8,184.17 111.05,194.45 111.3,184.89 111.55,194.02 111.8,184.33 112.05,193.73 112.3,184.76 112.55,195.72 112.8,183.57 113.05,191.22 113.3,184.51 113.55,193.33 113.8,184.5 114.05,192.3 114.3,184.38 114.55,193.41 114.8,184.94 115.05,191.34 115.3,184.32 115.55,193.87 115.8,183.33 116.05,193.92 116.3,184.4 116.55,197.38 116.8,183.72 117.05,198.75 117.3,182.58 117.55,192.34 117.8,184.32 118.05,191.22 118.3,184.62 118.55,191.6 118.8,184.57 119.05,194.3 119.3,184.78 119.55,193.28 119.8,184.53 120.05,191.88 120.3,184.66 120.55,194.25 120.8,184.4 121.05,190.83 121.3,183.93 121.55,198.76 121.8,182.78 122.05,198.77 122.3,184.25 122.55,190.87 122.8,183.91 123.05,192.47 123.3,184.06 123.55,191.18 123.8,183.95 124.05,193.76 124.3,183.96 124.55,191.42 124.8,184.43 125.05,192.14 125.3,184.27 125.55,193.24 125.8,184.43 126.05,190.82 126.3,184.29 126.55,191.43 126.8,183.31 127.05,195.25 127.3,183.3 127.55,193.27 127.8,183.65 128.05,191.55 128.3,184.08 128.55,197.04 128.8,183.99 129.05,190.73 129.3,183.85 129.55,190.37 129.8,183.65 130.05,191.52 130.3,184.28 130.55,194.13 130.8,183.09 131.05,196.31 131.3,184 131.55,202.16 131.8,184.04 132.05,194.35 132.3,184.1 132.55,192.67 132.8,183.4 133.05,194.52 133.3,184.44 133.55,194.53 133.8,184.06 134.05,192.15 134.3,183.44 134.55,192.56 134.8,184.39 135.05,192.32 135.3,184.43 135.55,198.05 135.8,183.65 136.05,193.3 136.3,183.42 136.55,196.02 136.8,183.21 137.05,193.53 137.3,184.96 137.55,194.63 137.8,184.59 138.05,198.69 138.3,185.05 138.55,194.2 138.8,183.78 139.05,192.98 139.3,184.43 139.55,196.09 139.8,184.7 140.05,193.43 140.3,184.46 140.55,196.33 140.8,183.55 141.05,192.78 141.3,185.02 141.55,195.31 141.8,184.32 142.05,196.91 142.3,184.23 142.55,195.93 142.8,185.46 143.05,198.29 143.3,185.39 143.55,193.16 143.8,183.12 144.05,194.24 144.3,185.03 144.55,198 144.8,184.55 145.05,198.28 145.3,183.71 145.55,195.66 145.8,184.74 146.05,196.01 146.3,185.7 146.55,194.33 146.8,184.03 147.05,192.98 147.3,185.66 147.55,193.2 147.8,184.91 148.05,194.7 148.3,185.28 148.55,196.71 148.8,185.48 149.05,194.5 149.3,184.87 149.55,193.65 149.8,185.41 150.05,195.99 150.3,185.28 150.55,196.2 150.8,182.85 151.05,199.12 151.3,184.66 151.55,193.65 151.8,185.26 152.05,193.22 152.3,183.67 152.55,192.99 152.8,184.85 153.05,199.05 153.3,185.12 153.55,194.64 153.8,184.71 154.05,193.06 154.3,184.94 154.55,193.8 154.8,185.29 155.05,199.68 155.3,183.24 155.55,195.7 155.8,184.97 156.05,192.09 156.3,185.14 156.55,199.92 156.8,184.04 157.05,197.17 157.3,184.64 157.55,199.05 157.8,184.96 158.05,193.5 158.3,183.04 158.55,194.1 158.8,184.52 159.05,193.62 159.3,184.88 159.55,197.72 159.8,184.71 160.05,192.63 160.3,184.57 160.55,191.99 160.8,182.34 161.05,192.18 161.3,185.25 161.55,197.33 161.8,184.34 162.05,192.59 162.3,184.93 162.55,195.9 162.8,184.33 163.05,199.28 163.3,185.28 163.55,201.91 163.8,185.04 164.05,200.39 164.3,184 164.55,192.19 164.8,184.44 165.05,194.15 165.3,184.75 165.55,193.65 165.8,185.05 166.05,194.74 166.3,183.75 166.55,194.49 166.8,184.7 167.05,197.88 167.3,184.7 167.55,195.88 167.8,184.41 168.05,193.06 168.3,184.29 168.55,192.31 168.8,184.51 169.05,193.37 169.3,183.71 169.55,194.2 169.8,184.92 170.05,193.53 170.3,183.67 170.55,194.53 170.8,184.95 171.05,195.38 171.3,184.2 171.55,197.04 171.8,185.06 172.05,194.68 172.3,182.69 172.55,192.96 172.8,184.17 173.05,193.38 173.3,184.07 173.55,197.45 173.8,183.73 174.05,195.87 174.3,184.46 174.55,192.93 174.8,182.43 175.05,196.71 175.3,184.65 175.55,193.42 175.8,183.74 176.05,192.85 176.3,182.8 176.55,196 176.8,182.39 177.05,192.74 177.3,183.84 177.55,191.16 177.8,184.27 178.05,193.57 178.3,182.03 178.55,199.85 178.8,183.5 179.05,195.31 179.3,183.94 179.55,193.58 179.8,184.03 180.05,193.75 180.3,184.2 180.55,191.39 180.8,183.63 181.05,194.68 181.3,184.52 181.55,197.65 181.8,183.94 182.05,196.41 182.3,184.15 182.55,190.96 182.8,184.45 183.05,197.86 183.3,183.59 183.55,200.28 183.8,184.33 184.05,192.64 184.3,184.43 184.55,191.84 184.8,184.09 185.05,191.56 185.3,184.17 185.55,194.57 185.8,183.93 186.05,193.29 186.3,184.59 186.55,191.34 186.8,183.77 187.05,191.35 187.3,184.77 187.55,193.33 187.8,183.42 188.05,200.07 188.3,185.01 188.55,194.41 188.8,184.4 189.05,194.18 189.3,183.6 189.55,193.44 189.8,183.96 190.05,195 190.3,185.41 190.55,196.23 190.8,184.72 191.05,194.97 191.3,185.61 191.55,201.49 191.8,185.07 192.05,195.49 192.3,185.34 192.55,196.53 192.8,185 193.05,193.63 193.3,185.3 193.55,194.04 193.8,185.54 194.05,193.43 194.3,185.23 194.55,198.51 194.8,183.62 195.05,195.57 195.3,184.9 195.55,207.44 195.8,185.07 196.05,193.63 196.3,184.7 196.55,194.21 196.8,184.04 197.05,192.97 197.3,184.43 197.55,195.25 197.8,183.17 198.05,194.55 198.3,184.78 198.55,196.21 198.8,184.14 199.05,196.65 199.3,184.98 199.55,195 199.8,182.88 200.05,192.93 200.3,184.83 200.55,193.35 200.8,183.5 201.05,193.34 201.3,184.01 201.55,192.53 201.8,184.91 202.05,193.13 202.3,183.55 202.55,197.46 202.8,184.55 203.05,198.43 203.3,184.87 203.55,198.3 203.8,182.14 204.05,193.82 204.3,184.86 204.55,191.14 204.8,184.74 205.05,191.63 205.3,184.42 205.55,191.13 205.8,184.48 206.05,194.09 206.3,184.65 206.55,194.27 206.8,184.68 207.05,198.66 207.3,182.59 207.55,192 207.8,184.48 208.05,192.58 208.3,184.7 208.55,195.12 208.8,181.67 209.05,191.26 209.3,184.4 209.55,190.83 209.8,184.14 210.05,201.27 210.3,182.55 210.55,205.52 210.8,183.13 211.05,198.22 211.3,183.49 211.55,191.15 211.8,183.64 212.05,192.48 212.3,184.72 212.55,199.84 212.8,184.73 213.05,191.4 213.3,183.74 213.55,193.9 213.8,183.8 214.05,197.94 214.3,185.01 214.55,197.87 214.8,183.89 215.05,193.87 215.3,183.99 215.55,197.03 215.8,185.17 216.05,195.27 216.3,184.39 216.55,196.01 216.8,185.06 217.05,198.78 217.3,184.83 217.55,193.41 217.8,184.92 218.05,195.36 218.3,182.56 218.55,193.18 218.8,185.44 219.05,195.14 219.3,185.35 219.55,194.42 219.8,184.59 220.05,203.06 220.3,184.76 220.55,194.88 220.8,184.52 221.05,195.13 221.3,184.92 221.55,198.66 221.8,185.09 222.05,192.58 222.3,184.72 222.55,195.36 222.8,184.39 223.05,197.89 223.3,185.23 223.55,198.27 223.8,181.24 224.05,194.97 224.3,185.22 224.55,195.26 224.8,183.96 225.05,195.78 225.3,184.96 225.55,193.2 225.8,185.34 226.05,194.39 226.3,184.66 226.55,194.51 226.8,184.12 227.05,194.35 227.3,185.47 227.55,202.14 227.8,182.1 228.05,199.31 228.3,185.34 228.55,194.64 228.8,184.69 229.05,193.24 229.3,184.61 229.55,193.8 229.8,182.43 230.05,199.03 230.3,184.96 230.55,193.36 230.8,184.77 231.05,195.32 231.3,184.93 231.55,195.16 231.8,185.04 232.05,199.02 232.3,184.25 232.55,191.86 232.8,182.67 233.05,193.52 233.3,184.01 233.55,191.81 233.8,184.91 234.05,193.26 234.3,184.63 234.55,192.68 234.8,183.99 235.05,193.04 235.3,183.16 235.55,202.25 235.8,184.9 236.05,194.58 236.3,183.57 236.55,191.07 236.8,183.25 237.05,197.72 237.3,184.64 237.55,199.68 237.8,183.84 238.05,191.88 238.3,184.47 238.55,196.04 238.8,184.84 239.05,191.48 239.3,184.27 239.55,191.39 239.8,184.33 240.05,193.83" fill="none" stroke="#c8171c" stroke-width="0.8" stroke-linejoin="round" />
<path d="M44.5 187.8 L46 185 L240 185 L240.5 191 L46 191.5 Z" fill="#c8171c"/>
<line x1="88.8" y1="206.4" x2="88.8" y2="224.9" stroke="#000" stroke-width="1.3"/>
<text x="54.5" y="219.3" font-size="11" font-weight="normal" font-style="normal" fill="#000" text-anchor="start" >20 pA</text>
<line x1="130.8" y1="207.3" x2="155.7" y2="207.3" stroke="#000" stroke-width="1.3"/>
<text x="129" y="219.3" font-size="11" font-weight="normal" font-style="normal" fill="#000" text-anchor="start" >50 ms</text>
<line x1="44.7" y1="244.8" x2="238" y2="244.8" stroke="#555" stroke-width="1.2"/>
<line x1="75.8" y1="244.8" x2="75.8" y2="287.8" stroke="#000" stroke-width="1.3"/>
<line x1="174.3" y1="244.8" x2="174.3" y2="287.8" stroke="#000" stroke-width="1.3"/>
<line x1="75.8" y1="250.8" x2="174.3" y2="250.8" stroke="#222" stroke-width="1.1"/>
<line x1="75.8" y1="256.4" x2="174.3" y2="256.4" stroke="#222" stroke-width="1.1"/>
<line x1="75.8" y1="261.8" x2="174.3" y2="261.8" stroke="#222" stroke-width="1.1"/>
<line x1="75.8" y1="267.1" x2="174.3" y2="267.1" stroke="#222" stroke-width="1.1"/>
<line x1="75.8" y1="272.5" x2="174.3" y2="272.5" stroke="#222" stroke-width="1.1"/>
<line x1="75.8" y1="277.6" x2="174.3" y2="277.6" stroke="#222" stroke-width="1.1"/>
<line x1="75.8" y1="282.5" x2="174.3" y2="282.5" stroke="#222" stroke-width="1.1"/>
<line x1="75.8" y1="287.2" x2="174.3" y2="287.2" stroke="#222" stroke-width="1.1"/>
<text x="98.2" y="299.2" font-size="11" font-weight="normal" font-style="normal" fill="#000" text-anchor="start" >40 mmHg</text>
<text x="3" y="307.7" font-size="13" font-weight="bold" font-style="normal" fill="#000" text-anchor="start" >B</text>
<line x1="43.8" y1="327.4" x2="43.8" y2="480.4" stroke="#4a4a4a" stroke-width="1.4"/>
<line x1="43.8" y1="477.3" x2="246.6" y2="477.3" stroke="#000" stroke-width="1.4"/>
<line x1="39.8" y1="328" x2="43.8" y2="328" stroke="#333" stroke-width="1.2"/>
<text transform="translate(38.3,331.8) scale(0.93,1)" font-size="12" font-weight="bold" font-style="normal" fill="#000" text-anchor="end" >-150</text>
<line x1="39.8" y1="376.3" x2="43.8" y2="376.3" stroke="#333" stroke-width="1.2"/>
<text transform="translate(38.3,380.1) scale(0.93,1)" font-size="12" font-weight="bold" font-style="normal" fill="#000" text-anchor="end" >-100</text>
<line x1="39.8" y1="424.5" x2="43.8" y2="424.5" stroke="#333" stroke-width="1.2"/>
<text transform="translate(38.3,428.3) scale(0.93,1)" font-size="12" font-weight="bold" font-style="normal" fill="#000" text-anchor="end" >-50</text>
<line x1="39.8" y1="472.7" x2="43.8" y2="472.7" stroke="#333" stroke-width="1.2"/>
<text transform="translate(38.3,476.5) scale(0.93,1)" font-size="12" font-weight="bold" font-style="normal" fill="#000" text-anchor="end" >0</text>
<line x1="41.3" y1="352.1" x2="43.8" y2="352.1" stroke="#000" stroke-width="1"/>
<line x1="41.3" y1="400.4" x2="43.8" y2="400.4" stroke="#000" stroke-width="1"/>
<line x1="41.3" y1="448.6" x2="43.8" y2="448.6" stroke="#000" stroke-width="1"/>
<line x1="44" y1="477.2" x2="44" y2="480.2" stroke="#000" stroke-width="1.2"/>
<text transform="translate(44,492) scale(0.97,1)" font-size="11.6" font-weight="bold" font-style="normal" fill="#000" text-anchor="middle" >0</text>
<line x1="133.7" y1="477.2" x2="133.7" y2="480.2" stroke="#000" stroke-width="1.2"/>
<text transform="translate(132.7,492) scale(0.97,1)" font-size="11.6" font-weight="bold" font-style="normal" fill="#000" text-anchor="middle" >-20</text>
<line x1="223.9" y1="477.2" x2="223.9" y2="480.2" stroke="#000" stroke-width="1.2"/>
<text transform="translate(222.9,492) scale(0.97,1)" font-size="11.6" font-weight="bold" font-style="normal" fill="#000" text-anchor="middle" >-40</text>
<line x1="88.8" y1="477.2" x2="88.8" y2="479" stroke="#000" stroke-width="1"/>
<line x1="178.8" y1="477.2" x2="178.8" y2="479" stroke="#000" stroke-width="1"/>
<text transform="translate(10,393.7) rotate(-90)" x="0" y="0" font-size="11" font-weight="bold" fill="#000" text-anchor="middle">Current amplitude (pA)</text>
<text x="98" y="509.4" font-size="11" font-weight="bold" font-style="normal" fill="#000" text-anchor="start" >Pressure (mmHg)</text>
<text x="102.2" y="386.9" font-size="10.5" font-weight="bold" font-style="normal" fill="#000" text-anchor="start" >WT</text>
<text x="129" y="466.6" font-size="10.5" font-weight="bold" font-style="normal" fill="#c8171c" text-anchor="start" >Piezo1<tspan font-size="7.6" dy="-3.6" font-weight="normal">Δ</tspan><tspan font-size="7.6">EC</tspan></text>
<polyline points="66.48,472.7 88.96,454.1 111.44,433.1 133.92,412.8 156.4,389.7 178.88,378.3 201.36,367.2 223.84,363.8" fill="none" stroke="#000" stroke-width="1.3" stroke-linejoin="round" />
<polyline points="44,472.7 66.48,472.7 88.96,472.7 111.44,472.7 133.92,472.7 156.4,472.7 178.88,472.35 201.36,472 223.84,471.65 227.5,471.6" fill="none" stroke="#dc4a4f" stroke-width="1.6" stroke-linejoin="round" />
<circle cx="44" cy="472.7" r="1.8" fill="#c8171c"/>
<circle cx="66.48" cy="472.7" r="1.8" fill="#c8171c"/>
<circle cx="88.96" cy="472.7" r="1.8" fill="#c8171c"/>
<circle cx="111.44" cy="472.7" r="1.8" fill="#c8171c"/>
<circle cx="133.92" cy="472.7" r="1.8" fill="#c8171c"/>
<circle cx="156.4" cy="472.7" r="1.8" fill="#c8171c"/>
<circle cx="178.88" cy="472.35" r="1.8" fill="#c8171c"/>
<line x1="178.88" y1="470.35" x2="178.88" y2="474.35" stroke="#c8171c" stroke-width="1.3"/>
<line x1="175.08" y1="472.35" x2="182.68" y2="472.35" stroke="#c8171c" stroke-width="1.7"/>
<circle cx="201.36" cy="472" r="1.8" fill="#c8171c"/>
<line x1="201.36" y1="470" x2="201.36" y2="474" stroke="#c8171c" stroke-width="1.3"/>
<line x1="197.56" y1="472" x2="205.16" y2="472" stroke="#c8171c" stroke-width="1.7"/>
<circle cx="223.84" cy="471.65" r="1.8" fill="#c8171c"/>
<line x1="223.84" y1="469.65" x2="223.84" y2="473.65" stroke="#c8171c" stroke-width="1.3"/>
<line x1="220.04" y1="471.65" x2="227.64" y2="471.65" stroke="#c8171c" stroke-width="1.7"/>
<line x1="88.96" y1="451.6" x2="88.96" y2="456.6" stroke="#000" stroke-width="2.0"/>
<line x1="85.16" y1="451.6" x2="92.76" y2="451.6" stroke="#000" stroke-width="2.2"/>
<line x1="85.16" y1="456.6" x2="92.76" y2="456.6" stroke="#000" stroke-width="2.2"/>
<line x1="111.44" y1="430.1" x2="111.44" y2="436.1" stroke="#000" stroke-width="2.0"/>
<line x1="107.64" y1="430.1" x2="115.24" y2="430.1" stroke="#000" stroke-width="2.2"/>
<line x1="107.64" y1="436.1" x2="115.24" y2="436.1" stroke="#000" stroke-width="2.2"/>
<line x1="133.92" y1="408.3" x2="133.92" y2="417.3" stroke="#000" stroke-width="2.0"/>
<line x1="130.12" y1="408.3" x2="137.72" y2="408.3" stroke="#000" stroke-width="2.2"/>
<line x1="130.12" y1="417.3" x2="137.72" y2="417.3" stroke="#000" stroke-width="2.2"/>
<line x1="156.4" y1="384.2" x2="156.4" y2="395.2" stroke="#000" stroke-width="2.0"/>
<line x1="152.6" y1="384.2" x2="160.2" y2="384.2" stroke="#000" stroke-width="2.2"/>
<line x1="152.6" y1="395.2" x2="160.2" y2="395.2" stroke="#000" stroke-width="2.2"/>
<line x1="178.88" y1="373" x2="178.88" y2="383.6" stroke="#000" stroke-width="2.0"/>
<line x1="175.08" y1="373" x2="182.68" y2="373" stroke="#000" stroke-width="2.2"/>
<line x1="175.08" y1="383.6" x2="182.68" y2="383.6" stroke="#000" stroke-width="2.2"/>
<line x1="201.36" y1="361.7" x2="201.36" y2="372.7" stroke="#000" stroke-width="2.0"/>
<line x1="197.56" y1="361.7" x2="205.16" y2="361.7" stroke="#000" stroke-width="2.2"/>
<line x1="197.56" y1="372.7" x2="205.16" y2="372.7" stroke="#000" stroke-width="2.2"/>
<line x1="223.84" y1="358.2" x2="223.84" y2="369.4" stroke="#000" stroke-width="2.0"/>
<line x1="220.04" y1="358.2" x2="227.64" y2="358.2" stroke="#000" stroke-width="2.2"/>
<line x1="220.04" y1="369.4" x2="227.64" y2="369.4" stroke="#000" stroke-width="2.2"/>
<text x="84.4" y="452.6" font-size="15.5" font-weight="normal" font-style="normal" fill="#000" text-anchor="middle" stroke="#000" stroke-width="0.25">***</text>
<text x="103.2" y="432.8" font-size="15.5" font-weight="normal" font-style="normal" fill="#000" text-anchor="middle" stroke="#000" stroke-width="0.25">***</text>
<text x="125.5" y="410" font-size="15.5" font-weight="normal" font-style="normal" fill="#000" text-anchor="middle" stroke="#000" stroke-width="0.25">***</text>
<text x="149.2" y="386.5" font-size="15.5" font-weight="normal" font-style="normal" fill="#000" text-anchor="middle" stroke="#000" stroke-width="0.25">***</text>
<text x="172.6" y="374.8" font-size="15.5" font-weight="normal" font-style="normal" fill="#000" text-anchor="middle" stroke="#000" stroke-width="0.25">***</text>
<text x="194" y="363.8" font-size="15.5" font-weight="normal" font-style="normal" fill="#000" text-anchor="middle" stroke="#000" stroke-width="0.25">***</text>
<text x="218" y="359.8" font-size="15.5" font-weight="normal" font-style="normal" fill="#000" text-anchor="middle" stroke="#000" stroke-width="0.25">***</text>
<text x="269" y="14.1" font-size="13" font-weight="bold" font-style="normal" fill="#000" text-anchor="start" >C</text>
<text x="302.5" y="12.2" font-size="10.5" font-weight="bold" font-style="normal" fill="#000" text-anchor="start" >WT</text>
<polyline points="300.9,19.76 301.6,19.94 302.3,20.17 303,20.02 303.7,19.77 304.4,19.87 305.1,20.05 305.8,20.28 306.5,19.96 307.2,19.75 307.9,20.04 308.6,20.16 309.3,20.45 310,20.52 310.7,20.35 311.4,20.22 312.1,20.71 312.8,20.43 313.5,20.17 314.2,19.95 314.9,20.07 315.6,20.15 316.3,20.11 317,20.14 317.7,20.23 318.4,20.38 319.1,20.55 319.8,20.47 320.5,20.03 321.2,20.27 321.9,19.99 322.6,20.08 323.3,19.88 324,20.05 324.7,20.01 325.4,20.18 326.1,20.91 326.8,20.67 327.5,20.72 328.2,20.31 328.9,20.28 329.6,20.46 330.3,20.42 331,20.49 331.8,20.8 333,60 335.3,97.5 336.5,108 337.4,114.7 338.8,123.6 341.8,130.9 345.5,136.1 346.9,133.93 347.7,133.42 348.5,133.47 349.3,133.03 350.1,133.43 350.9,132.92 351.7,133.06 352.5,133.26 353.3,133.76 354.1,133.75 354.9,134.31 355.7,134.45 356.5,135.04 357.3,134.24 358.1,133.3 358.9,132.16 359.7,131.59 360.5,131.86 361.3,134.13 362.1,135.69 362.9,137.64 363.7,139.19 364.5,138.04 365.3,136.89 366.1,135.75 366.9,134.49 367.7,133.84 368.5,133.46 369.3,133.36 370.1,133.39 370.9,133.11 371.7,132.8 372.5,132.38 373.3,130.64 374.1,128.32 374.9,126.24 375.7,126.67 376.5,126.38 377.3,126.15 378.1,126.79 378.9,126.75 379.7,126.96 380.5,127.35 381.3,127.39 382.1,128.65 382.9,129.45 383.7,129.72 384.5,129.23 385.3,128.42 386.1,127.4 386.9,126.76 387.7,126.26 388.5,126.57 389.3,127.73 390.1,128.68 390.9,130.06 391.7,130.73 392.5,129.58 393.3,127.63 394.1,125.21 394.9,125.45 395.7,126.17 396.5,127.25 397.3,128.3 398.1,128.92 398.9,128.02 399.7,127.58 400.5,127.32 401.3,126.76 402.1,125.63 402.9,126.65 403.7,128.05 404.5,128.8 405.3,128.81 406.1,128.65 406.9,128.73 407.7,129.42 408.5,129.3 409.3,129.09 410.1,129.37 410.9,127.99 411.7,126.9 412.5,124.96 413.3,124.57 414.1,124.62 414.9,124.78 415.7,124.6 416.5,124.34 417.3,123.53 418.1,123.29 418.9,123.51 419.7,124.01 420.5,124.82 421.3,125.24 422.1,125.92 422.9,125.71 423.7,125.4 424.5,125.28 425.3,125.22 427.2,117.7 428.7,104.4 429.6,81.5 432,71.6 437,51.9 439.5,46.9 445.7,40.7 449.4,35.8 455.6,27.2 458.5,25 461.7,24 462.2,24.17 462.9,24 463.6,23.95 464.3,23.69 465,24.12 465.7,24.35 466.4,24.16 467.1,23.99 467.8,23.73 468.5,23.85 469.2,23.93 469.9,24.37 470.6,24.25 471.3,23.97 472,23.46 472.7,23.93 473.4,23.97 474.1,23.63 474.8,23.78 475.5,23.51 476.2,24.36 476.9,24.4 477.6,24.32 478.3,24.11 479,23.6 479.7,23.69 480.4,23.45 481.1,23.74 481.8,23.37 482.5,23.39 483.2,23.82 483.9,24.17 484.6,23.81 485.3,23.52 486,23.83 486.7,24 487.4,23.74 488.1,23.64 488.8,23.58 489.5,23.44 490.2,23.46 490.9,23.85 491.6,23.97 492.3,24.32 493,24.1 493.7,23.95 494.4,23.69" fill="none" stroke="#000" stroke-width="1.9" stroke-linejoin="round" />
<line x1="316.9" y1="74.6" x2="316.9" y2="99.7" stroke="#000" stroke-width="1.3"/>
<text x="285" y="88.6" font-size="11" font-weight="normal" font-style="normal" fill="#000" text-anchor="start" >10 pA</text>
<line x1="300" y1="119.6" x2="324.6" y2="119.6" stroke="#000" stroke-width="1.3"/>
<text x="295.5" y="132.5" font-size="11" font-weight="normal" font-style="normal" fill="#000" text-anchor="start" >50 ms</text>
<polyline points="302.1,170.6 333.6,170.6 333.6,192.7 430.8,192.7 430.8,170.6 495,170.6" fill="none" stroke="#000" stroke-width="1.4" stroke-linejoin="round" stroke-linejoin="miter"/>
<text x="357.3" y="203.6" font-size="11" font-weight="normal" font-style="normal" fill="#000" text-anchor="start" >20 mmHg</text>
<text x="512.5" y="14.1" font-size="13" font-weight="bold" font-style="normal" fill="#000" text-anchor="start" >D</text>
<text x="544.5" y="8.8" font-size="10.5" font-weight="bold" font-style="italic" fill="#2a00f5" text-anchor="start" >fro/fro</text>
<polyline points="541,17.72 541.5,17.57 542,18.41 542.5,17.21 543,17.91 543.5,17.08 544,18.48 544.5,18.46 545,19.02 545.5,18.28 546,18.5 546.5,18.23 547,17.93 547.5,18.28 548,17.69 548.5,17.96 549,18.56 549.5,18.43 550,18.16 550.5,19.35 551,18.67 551.5,18.15 552,18.36 552.5,18.09 553,18.08 553.5,18.09 554,19.26 554.5,18.63 555,18.52 555.5,18.73 556,19.45 556.5,18.57 557,18.11 557.5,19.49 558,17.98 558.5,18.06 559,18.6 559.5,19.55 560,18.25 560.5,17.14 561,18.32 561.5,18.1 562,18.1 562.5,18.51 563,18.52 563.5,18.56 564,18.22 564.5,18.96 565,19.29 565.5,18.67 566,18.25 566.5,18.7 567,18.71 567.5,17.98 568,18.04 568.5,18.8 569,18.47 569.5,18.25 570,18.46 570.5,18.4 571,18.4 571.5,17.45 572.2,18.6 572.5,131.7 574.5,150 576.5,165.5 577.3,161.86 577.8,155.96 578.3,149.91 578.8,143.88 579.3,136.37 579.8,125.23 580.3,109.26 580.8,106.29 581.3,102.17 581.8,98.85 582.3,96.77 582.8,93.43 583.3,91.16 583.8,89.55 584.3,87.14 584.8,85.97 585.3,85.21 585.8,83.81 586.3,82.14 586.8,79.54 587.3,79.54 587.8,77.97 588.3,76.71 588.8,75.35 589.3,73.13 589.8,71.71 590.3,70.5 590.8,70.58 591.3,68.58 591.8,67.35 592.3,66.44 592.8,65.89 593.3,65.06 593.8,64.08 594.3,62.51 594.8,60.62 595.3,60.81 595.8,60.27 596.3,59.89 596.8,58.58 597.3,57.34 597.8,56.86 598.3,55.38 598.8,54.64 599.3,53.9 599.8,53.7 600.3,53.88 600.8,52.85 601.3,52.18 601.8,51.08 602.3,50.24 602.8,49.16 603.3,48.39 603.8,46.73 604.3,46.22 604.8,45.73 605.3,46.15 605.8,45.86 606.3,45.64 606.8,45.41 607.3,44.22 607.8,44.1 608.3,44.1 608.8,42.94 609.3,42.72 609.8,41.79 610.3,40.45 610.8,40.27 611.3,39.35 611.8,39 612.3,38.18 612.8,37.79 613.3,36.16 613.8,37.08 614.3,37.05 614.8,36.19 615.3,35.58 615.8,35.66 616.3,35.84 616.8,35.67 617.3,35.49 617.8,34.31 618.3,34.19 618.8,35.07 619.3,34.75 619.8,33.79 620.3,33.68 620.8,33.3 621.3,33.27 621.8,34.09 622.3,33.64 622.8,33.98 623.3,33.58 623.8,32.65 624.3,32.63 624.8,33.78 625.3,32.72 625.8,32.18 626.3,32.9 626.8,32.52 627.3,32.27 627.8,32.72 628.3,31.38 628.8,31.81 629.3,31.1 629.8,30.56 630.3,30.47 630.8,31.11 631.3,30.57 631.8,29.5 632.3,29.32 632.8,30.21 633.3,30.09 633.8,28.97 634.3,29.96 634.8,28.89 635.3,28.03 635.8,28.05 636.3,28.49 636.8,28.87 637.3,28.69 637.8,27.96 638.3,27.63 638.8,27.1 639.3,27.49 639.8,27.33 640.3,27.6 640.8,26.98 641.3,27.07 641.8,26.89 642.3,26.65 642.8,26.54 643.3,26.53 643.8,26.4 644.3,27.07 644.8,27.02 645.3,26.35 645.8,26.89 646.3,26.9 646.8,27.36 647.3,26.74 647.8,26.5 648.3,26.17 648.8,26.34 649.3,26.48 649.8,26.31 650.3,26.01 650.8,26.2 651.3,25.98 651.8,25.91 652.3,25.31 652.8,25.55 653.3,25.03 653.8,24.87 654.3,25.19 654.8,26.05 655.3,25.76 655.8,25.17 656.3,24.85 656.8,25.18 657.3,25.37 657.8,25.26 658.3,24.54 658.8,24.39 659.3,24.03 659.8,23.86 660.3,23.47 660.8,23.52 661.3,22.63 661.8,22.68 662.3,23.31 662.8,22.83 663.3,23.22 663.8,22.46 664.3,22.54 664.8,22.81 665.3,22.18 665.8,21.99 666.3,22.96 666.8,21.62 667.3,20.94 667.8,20.52 668.3,20.37 668.8,20.03 669.3,20.09 669.8,20.03 670.3,19.48 670.8,19.3 671.3,18.76 671.8,18.53 672.3,18.76 672.8,19.42 673.3,19.33 673.8,19.56 674.3,19.65 674.8,19.17 675.3,19.97 675.8,19.05 676.3,18.7 676.8,18.64 677.3,19.27 677.8,18.87 678.3,18.46 678.8,18.81 679.3,19.18 679.8,18.73 680.3,18.53 680.8,19.07 681.3,19.2 681.8,19.24 682.3,18.52 682.8,18.77 683.3,18.89 683.8,18.02 684.3,19.05 684.8,18.9 685.3,18.68 685.8,19.74 686.3,19.16 686.8,18.63 687.3,18.77 687.8,19.09 688.3,19.3 688.8,19.02 689.3,18.62 689.8,18.6 690.3,18.57 690.8,18.49 691.3,18.94 691.8,18.9 692.3,19.15 692.8,18.88 693.3,18.81 693.8,19.11 694.3,19.16 694.8,19.85 695.3,19.2 695.8,19.51 696.3,19.53 696.8,19.02 697.3,19.77 697.8,19.78 698.3,18.82 698.8,19.63 699.3,19.97 699.8,19.29 700.3,20.11 700.8,19.66 701.3,18.92 701.8,19.4 702.3,19.1 702.8,18.55 703.3,18 703.8,18.82 704.3,18.61 704.8,19.09 705.3,19.09 705.8,18.65 706.3,18.48 706.8,19.37 707.3,19.57 707.8,19.18 708.3,18.55 708.8,18.05 709.3,18.12 709.8,18.97 710.3,18.68 710.8,18.28 711.3,17.74 711.8,18.17 712.3,17.85 712.8,18.12 713.3,18.51 713.8,18.75 714.3,18.42 714.8,18.11 715.3,18.25 715.8,18.95 716.3,18.55 716.8,17.66 717.3,18.64 717.8,18.37 718.3,19.67 718.8,18.36 719.3,18.11 719.8,17.95 720.3,18.18 720.8,17.83 721.3,17.33 721.8,16.98 722.3,17.64 722.8,17.66 723.3,17.63 723.8,18.76 724.3,18.53 724.8,18.58 725.3,17.9 725.8,18.03 726.3,17.85 726.8,17.78 727.3,18.16 727.8,18.21 728.3,18.08 728.8,17.97 729.3,17.25 729.8,17.32 730.3,17.82 730.8,17.64 731.3,17.4 731.8,17.8 732.3,17.37 732.8,17.34 733.3,17.98 733.8,17.64 734.3,18.29" fill="none" stroke="#2a00f5" stroke-width="2.2" stroke-linejoin="round" />
<path d="M541.3 16.82L541.5 20.39M541.75 15.95L541.95 22.31M542.2 17.45L542.4 21.08M542.65 16.9L542.85 19.39M543.1 15.79L543.3 19.3M543.55 15.23L543.75 19.99M544 17.48L544.2 19.37M544.45 16.22L544.65 19.31M544.9 16.68L545.1 19.71M545.35 15.57L545.55 21.03M545.8 16.5L546 19.85M546.25 17.17L546.45 20.1M546.7 16.98L546.9 20.39M547.15 16.44L547.35 20.35M547.6 15.32L547.8 21.45M548.05 17.15L548.25 20M548.5 17.3L548.7 21.26M548.95 16.93L549.15 19.36M549.4 16.87L549.6 21.28M549.85 17.21L550.05 19.57M550.3 16.87L550.5 20.17M550.75 16.64L550.95 19.36M551.2 16.31L551.4 20.22M551.65 16.71L551.85 19.81M552.1 17.06L552.3 20.23M552.55 15.79L552.75 19.74M553 16.15L553.2 20.25M553.45 16.2L553.65 20.77M553.9 16.56L554.1 19.33M554.35 16.16L554.55 19.54M554.8 17.35L555 19.36M555.25 17.18L555.45 20.47M555.7 16.53L555.9 19.24M556.15 17.52L556.35 22.13M556.6 17.01L556.8 20.32M557.05 16.55L557.25 19.87M557.5 17.42L557.7 19.7M557.95 16.88L558.15 20.21M558.4 16.58L558.6 19.83M558.85 17.01L559.05 19.27M559.3 16.43L559.5 19.85M559.75 16.58L559.95 19.39M560.2 15.96L560.4 22.36M560.65 16.92L560.85 21.48M561.1 15.14L561.3 20.04M561.55 15.62L561.75 22.56M562 16.96L562.2 20.78M562.45 16.16L562.65 19.78M562.9 15.53L563.1 19.35M563.35 16.73L563.55 19.34M563.8 17.26L564 19.31M564.25 17L564.45 22.31M564.7 15.36L564.9 20.04M565.15 16.65L565.35 20.36M565.6 17.33L565.8 19.49M566.05 15.35L566.25 19.78M566.5 16.67L566.7 20.8M566.95 14.62L567.15 20.14M567.4 16.38L567.6 19.4M567.85 17.54L568.05 21.5M568.3 16.65L568.5 19.6M568.75 17.33L568.95 23.28M569.2 16.29L569.4 20.53M569.65 17.41L569.85 19.69M570.1 17.26L570.3 20.55M570.55 16.59L570.75 19.67M571 17.38L571.2 19.26M571.45 17.11L571.65 19.63M577.75 155.71L577.95 156.59M578.2 150.2L578.4 151.76M578.65 145.12L578.85 148.11M579.1 138.14L579.3 139.99M579.55 131L579.75 133.82M580 117.41L580.2 119.86M580.45 106.7L580.65 109.27M580.9 103.04L581.1 106.36M581.35 99.88L581.55 102.4M581.8 96.68L582 100.17M582.25 94.91L582.45 98.2M582.7 92.98L582.9 96.08M583.15 89.78L583.35 93.38M583.6 85.91L583.8 91.64M584.05 85.93L584.25 90.04M584.5 85.09L584.7 89.3M584.95 83.71L585.15 89.51M585.4 81.63L585.6 86.27M585.85 80.36L586.05 84.83M586.3 79.89L586.5 82.98M586.75 78.22L586.95 84.11M587.2 76.48L587.4 80.32M587.65 75.75L587.85 79.42M588.1 74.7L588.3 78.7M588.55 72.39L588.75 77.78M589 72.28L589.2 77.77M589.45 70.88L589.65 74.9M589.9 67.53L590.1 76.68M590.35 67.29L590.55 72.88M590.8 64.97L591 76.13M591.25 65.49L591.45 74.26M591.7 60.4L591.9 70M592.15 60.88L592.35 69.12M592.6 59.29L592.8 68.83M593.05 62.57L593.25 68.48M593.5 62.06L593.7 66.44M593.95 57.74L594.15 65.52M594.4 60.13L594.6 64.79M594.85 56.75L595.05 64.56M595.3 59.34L595.5 64.66M595.75 56.76L595.95 66.39M596.2 52.6L596.4 62.78M596.65 55.74L596.85 62.81M597.1 55.1L597.3 59.82M597.55 55.06L597.75 63.33M598 52.12L598.2 58.32M598.45 52.86L598.65 59.15M598.9 53.11L599.1 57.56M599.35 49.81L599.55 60.73M599.8 50.21L600 57.25M600.25 49.76L600.45 57.45M600.7 49.16L600.9 56.87M601.15 48.86L601.35 54.15M601.6 42.87L601.8 60.01M602.05 47.22L602.25 53.16M602.5 47.33L602.7 52.55M602.95 44.75L603.15 57.97M603.4 44.29L603.6 53.58M603.85 45.34L604.05 54.99M604.3 44.78L604.5 50.17M604.75 43.76L604.95 48.49M605.2 42.73L605.4 50.08M605.65 43.13L605.85 47.32M606.1 41.68L606.3 48.06M606.55 41.63L606.75 51.46M607 42.26L607.2 48.12M607.45 39.45L607.65 46.71M607.9 41.12L608.1 46.57M608.35 38.92L608.55 46.18M608.8 40.74L609 47.53M609.25 38.32L609.45 45.14M609.7 39.27L609.9 43.97M610.15 37.64L610.35 44.88M610.6 34.61L610.8 45.43M611.05 35.45L611.25 41.83M611.5 37.74L611.7 44.26M611.95 37.14L612.15 41.32M612.4 34.55L612.6 39.96M612.85 35.66L613.05 40.02M613.3 33.38L613.5 42.23M613.75 34.48L613.95 43.44M614.2 30.95L614.4 39.87M614.65 30.14L614.85 38.69M615.1 31.74L615.3 41.03M615.55 33.8L615.75 38.86M616 32.57L616.2 37.86M616.45 32.44L616.65 36.79M616.9 33.67L617.1 37.8M617.35 33.46L617.55 38.59M617.8 32.92L618 36.26M618.25 32.89L618.45 36.77M618.7 33.52L618.9 35.64M619.15 33.42L619.35 35.35M619.6 32.16L619.8 37.34M620.05 33.12L620.25 35.61M620.5 31.81L620.7 34.85M620.95 32.08L621.15 34.93M621.4 32.16L621.6 35.07M621.85 32.74L622.05 35.58M622.3 32.87L622.5 34.29M622.75 32.89L622.95 34.57M623.2 32.42L623.4 35.16M623.65 30.99L623.85 34.96M624.1 31.85L624.3 34.06M624.55 32.14L624.75 34.03M625 31.19L625.2 33.65M625.45 31.29L625.65 33.81M625.9 31.63L626.1 33.44M626.35 31.24L626.55 34.5M626.8 30.43L627 33.58M627.25 30.54L627.45 32.87M627.7 30.9L627.9 33.77M628.15 30.98L628.35 33.45M628.6 29.67L628.8 32.54M629.05 30.19L629.25 33.21M629.5 30.4L629.7 32.62M629.95 30.25L630.15 31.99M630.4 29.25L630.6 32.09M630.85 30.11L631.05 31.73M631.3 29.92L631.5 32.18M631.75 29.31L631.95 31.07M632.2 29.03L632.4 31.65M632.65 28.62L632.85 30.89M633.1 27.79L633.3 31.07M633.55 28.5L633.75 31.01M634 26.79L634.2 30.38M634.45 26.91L634.65 30.65M634.9 26.66L635.1 29.39M635.35 26.67L635.55 29.51M635.8 26.94L636 29.2M636.25 27.32L636.45 28.86M636.7 27.28L636.9 29.25M637.15 26.59L637.35 29.63M637.6 26.62L637.8 28.59M638.05 25.91L638.25 28.82M638.5 26.14L638.7 30.15M638.95 26.36L639.15 29.75M639.4 25.76L639.6 28.5M639.85 26.95L640.05 28.64M640.3 26.88L640.5 28.72M640.75 26.37L640.95 28.62M641.2 25.67L641.4 28.74M641.65 26.43L641.85 28.76M642.1 26.56L642.3 28.79M642.55 25.88L642.75 28.83M643 25.63L643.2 30.22M643.45 26.5L643.65 28.09M643.9 26.37L644.1 27.79M644.35 24.8L644.55 27.79M644.8 25.85L645 28.56M645.25 26.14L645.45 27.73M645.7 23.77L645.9 28.16M646.15 25.5L646.35 29.16M646.6 26.03L646.8 27.76M647.05 24.5L647.25 27.65M647.5 24.87L647.7 28.12M647.95 24.63L648.15 28.44M648.4 25.33L648.6 27.33M648.85 23.79L649.05 28M649.3 25.07L649.5 28.22M649.75 24.58L649.95 28.56M650.2 25.16L650.4 29.18M650.65 23.2L650.85 27.83M651.1 24.44L651.3 26.76M651.55 24.89L651.75 26.75M652 23.65L652.2 27.56M652.45 24.72L652.65 27.75M652.9 24.38L653.1 26.82M653.35 24.58L653.55 27.02M653.8 20.83L654 27.68M654.25 23.87L654.45 27.1M654.7 23.75L654.9 28.11M655.15 23.63L655.35 26.42M655.6 24.12L655.8 27.82M656.05 22.47L656.25 27.57M656.5 23.16L656.7 27.42M656.95 22.62L657.15 25.88M657.4 23.43L657.6 28.03M657.85 23.23L658.05 28.01M658.3 21.9L658.5 26.83M658.75 20.37L658.95 29.28M659.2 19.3L659.4 25.21M659.65 19.88L659.85 26.58M660.1 20.83L660.3 28.53M660.55 20.91L660.75 25.85M661 22.72L661.2 25.75M661.45 22.04L661.65 25.82M661.9 22.27L662.1 24.84M662.35 21.68L662.55 25.19M662.8 20.7L663 25.63M663.25 21.43L663.45 26.82M663.7 19.97L663.9 24.1M664.15 21.6L664.35 25.88M664.6 18.05L664.8 24.51M665.05 21.13L665.25 23.99M665.5 17.76L665.7 23.96M665.95 21.12L666.15 24.04M666.4 19.26L666.6 23.28M666.85 17.7L667.05 24.71M667.3 18.06L667.5 23.5M667.75 18.13L667.95 24.62M668.2 19.06L668.4 22.31M668.65 18.67L668.85 22.31M669.1 17.42L669.3 22.28M669.55 17.02L669.75 24.71M670 16.17L670.2 20.76M670.45 16.12L670.65 20.76M670.9 16.18L671.1 20.63M671.35 17.43L671.55 23.19M671.8 18.01L672 23.4M672.25 18.14L672.45 22.15M672.7 17.27L672.9 22.65M673.15 16.3L673.35 22.14M673.6 17.51L673.8 21.82M674.05 17.77L674.25 20.36M674.5 17.85L674.7 20.64M674.95 16.39L675.15 22.15M675.4 15.02L675.6 21.37M675.85 16.59L676.05 20.82M676.3 14.35L676.5 24.4M676.75 16.5L676.95 20.16M677.2 17.04L677.4 20.37M677.65 17.64L677.85 22.14M678.1 17.07L678.3 21.19M678.55 17.56L678.75 20.78M679 17.22L679.2 22.27M679.45 16.87L679.65 20.44M679.9 16.69L680.1 21.39M680.35 17.67L680.55 19.91M680.8 16.24L681 20.07M681.25 17.56L681.45 19.93M681.7 17.16L681.9 20.58M682.15 17.62L682.35 19.91M682.6 15.48L682.8 19.58M683.05 16.82L683.25 20.44M683.5 16.25L683.7 20.99M683.95 16.73L684.15 19.57M684.4 16.93L684.6 20.56M684.85 17L685.05 20.2M685.3 17.56L685.5 19.8M685.75 17.8L685.95 19.61M686.2 16.73L686.4 19.81M686.65 18.19L686.85 20M687.1 17.26L687.3 19.62M687.55 18.14L687.75 19.78M688 18.17L688.2 19.57M688.45 17.43L688.65 19.75M688.9 18.21L689.1 19.64M689.35 18.51L689.55 20.17M689.8 18.36L690 19.48M690.25 18.64L690.45 20.04M690.7 18.6L690.9 20M691.15 18.31L691.35 20.06M691.6 18.55L691.8 19.59M692.05 18.68L692.25 19.5M692.5 18.54L692.7 19.53M692.95 18.94L693.15 19.59M693.4 18.4L693.6 20.06M693.85 18.71L694.05 19.83M694.3 18.79L694.5 19.78M694.75 17.91L694.95 19.77M695.2 18.94L695.4 19.87M695.65 19.03L695.85 20.41M696.1 18.91L696.3 20.01M696.55 19.01L696.75 20.24M697 18.85L697.2 20.11M697.45 18.83L697.65 20.93M697.9 18.89L698.1 20.22M698.35 19.07L698.55 20.6M698.8 19.31L699 20.45M699.25 18.9L699.45 20.15M699.7 18.78L699.9 20.03M700.15 18.24L700.35 19.84M700.6 18.89L700.8 19.75M701.05 18.6L701.25 19.97M701.5 18.76L701.7 20.11M701.95 18.44L702.15 19.8M702.4 18.84L702.6 19.57M702.85 18.41L703.05 20.02M703.3 18.38L703.5 19.77M703.75 18.2L703.95 20.63M704.2 18.29L704.4 19.83M704.65 18.17L704.85 19.31M705.1 18.21L705.3 19.57M705.55 18.3L705.75 19.29M706 18.39L706.2 19.2M706.45 17.93L706.65 19.16M706.9 18.25L707.1 19.09M707.35 18.03L707.55 19.76M707.8 17.97L708 19.35M708.25 17.8L708.45 19.31M708.7 17.69L708.9 18.88M709.15 17.82L709.35 19.42M709.6 17.61L709.8 19.63M710.05 17.09L710.25 20.87M710.5 16.71L710.7 19.35M710.95 17.52L711.15 19M711.4 16.98L711.6 19.46M711.85 17.37L712.05 20.6M712.3 17.34L712.5 19.99M712.75 17.05L712.95 22.35M713.2 16.33L713.4 19.82M713.65 17.03L713.85 21.93M714.1 17.14L714.3 20.37M714.55 16.13L714.75 20.01M715 16.81L715.2 19.58M715.45 15.86L715.65 19.25M715.9 17.02L716.1 20.34M716.35 16.78L716.55 21.75M716.8 16.28L717 20.35M717.25 16.61L717.45 19.4M717.7 15.13L717.9 18.98M718.15 15.76L718.35 19.01M718.6 15.43L718.8 19.51M719.05 16.58L719.25 19.64M719.5 15.17L719.7 22.67M719.95 14.39L720.15 19.43M720.4 16.6L720.6 20.13M720.85 16.41L721.05 20.85M721.3 15.33L721.5 19.96M721.75 15.35L721.95 20.28M722.2 16.04L722.4 18.85M722.65 15.85L722.85 20.93M723.1 16.42L723.3 20.52M723.55 15.47L723.75 19.78M724 15.5L724.2 19.84M724.45 15.85L724.65 21.01M724.9 14.83L725.1 19.04M725.35 15.82L725.55 19.31M725.8 16.53L726 20.05M726.25 16.34L726.45 19.49M726.7 16.92L726.9 20.1M727.15 15.03L727.35 18.75M727.6 16.94L727.8 19.89M728.05 16.56L728.25 20M728.5 15.28L728.7 21.13M728.95 15.65L729.15 19.29M729.4 15.77L729.6 18.89M729.85 15.22L730.05 19.16M730.3 14.97L730.5 18.92M730.75 16.08L730.95 18.74M731.2 16.89L731.4 19.3M731.65 14.44L731.85 18.88M732.1 16.5L732.3 20.28M732.55 16.49L732.75 19.36M733 16.16L733.2 21.49M733.45 16.36L733.65 18.82M733.9 14.02L734.1 19.46" stroke="#2a00f5" stroke-width="0.9" fill="none"/>
<line x1="590.5" y1="67.75" x2="590.9" y2="73.75" stroke="#2a00f5" stroke-width="1.0"/>
<line x1="594" y1="59.52" x2="594.4" y2="67.52" stroke="#2a00f5" stroke-width="1.0"/>
<line x1="596.5" y1="56.01" x2="596.9" y2="64.01" stroke="#2a00f5" stroke-width="1.0"/>
<line x1="599" y1="49.96" x2="599.4" y2="57.96" stroke="#2a00f5" stroke-width="1.0"/>
<line x1="602.4" y1="43.89" x2="602.8" y2="52.89" stroke="#2a00f5" stroke-width="1.0"/>
<line x1="606" y1="42.36" x2="606.4" y2="49.36" stroke="#2a00f5" stroke-width="1.0"/>
<line x1="611.8" y1="31.07" x2="612.2" y2="43.07" stroke="#2a00f5" stroke-width="1.0"/>
<line x1="613" y1="34.45" x2="613.4" y2="43.45" stroke="#2a00f5" stroke-width="1.0"/>
<line x1="627" y1="22.31" x2="627.4" y2="40.31" stroke="#2a00f5" stroke-width="1.0"/>
<line x1="628.2" y1="27.97" x2="628.6" y2="37.97" stroke="#2a00f5" stroke-width="1.0"/>
<line x1="655.5" y1="20.02" x2="655.9" y2="29.02" stroke="#2a00f5" stroke-width="1.0"/>
<line x1="656.5" y1="16.82" x2="656.9" y2="32.82" stroke="#2a00f5" stroke-width="1.0"/>
<line x1="672.5" y1="12.31" x2="672.9" y2="21.31" stroke="#2a00f5" stroke-width="1.0"/>
<line x1="676" y1="14.98" x2="676.4" y2="21.98" stroke="#2a00f5" stroke-width="1.0"/>
<line x1="678" y1="15.79" x2="678.4" y2="20.79" stroke="#2a00f5" stroke-width="1.0"/>
<line x1="716" y1="16.16" x2="716.4" y2="24.16" stroke="#2a00f5" stroke-width="1.0"/>
<line x1="723" y1="12.98" x2="723.4" y2="19.98" stroke="#2a00f5" stroke-width="1.0"/>
<line x1="730" y1="14.81" x2="730.4" y2="20.81" stroke="#2a00f5" stroke-width="1.0"/>
<line x1="559.8" y1="61" x2="559.8" y2="82.7" stroke="#000" stroke-width="1.3"/>
<text x="526.3" y="77.4" font-size="11" font-weight="normal" font-style="normal" fill="#000" text-anchor="start" >20 pA</text>
<line x1="612.2" y1="81.1" x2="637" y2="81.1" stroke="#000" stroke-width="1.3"/>
<text x="611.2" y="95.8" font-size="11" font-weight="normal" font-style="normal" fill="#000" text-anchor="start" >50 ms</text>
<polyline points="545.4,170.4 576.2,170.4 576.2,192.4 674.2,192.4 674.2,170.4 738.4,170.4" fill="none" stroke="#000" stroke-width="1.4" stroke-linejoin="round" stroke-linejoin="miter"/>
<text x="600.7" y="187.9" font-size="11" font-weight="normal" font-style="normal" fill="#000" text-anchor="start" >20 mmHg</text>
<text x="269" y="210.8" font-size="13" font-weight="bold" font-style="normal" fill="#000" text-anchor="start" >E</text>
<line x1="317.4" y1="206.8" x2="317.4" y2="355.6" stroke="#000" stroke-width="1.4"/>
<line x1="314" y1="223.6" x2="317.4" y2="223.6" stroke="#000" stroke-width="1.2"/>
<text transform="translate(311.9,226.4) scale(0.88,1)" font-size="10.6" font-weight="bold" font-style="normal" fill="#000" text-anchor="end" >-200</text>
<line x1="314" y1="289.4" x2="317.4" y2="289.4" stroke="#000" stroke-width="1.2"/>
<text transform="translate(311.9,292.2) scale(0.88,1)" font-size="10.6" font-weight="bold" font-style="normal" fill="#000" text-anchor="end" >-100</text>
<line x1="314" y1="355.2" x2="317.4" y2="355.2" stroke="#000" stroke-width="1.2"/>
<text transform="translate(311.9,358) scale(0.88,1)" font-size="10.6" font-weight="bold" font-style="normal" fill="#000" text-anchor="end" >0</text>
<line x1="315.3" y1="256.5" x2="317.4" y2="256.5" stroke="#000" stroke-width="1"/>
<line x1="315.3" y1="322.4" x2="317.4" y2="322.4" stroke="#000" stroke-width="1"/>
<text transform="translate(285.6,283.9) rotate(-90)" x="0" y="0" font-size="10.8" font-weight="bold" fill="#000" text-anchor="middle">Peak amplitude (pA)</text>
<line x1="326.3" y1="331.2" x2="400.9" y2="331.2" stroke="#000" stroke-width="1.4"/>
<line x1="363.3" y1="318.4" x2="363.3" y2="343.6" stroke="#000" stroke-width="1.4"/>
<line x1="358.5" y1="318.4" x2="368.5" y2="318.4" stroke="#000" stroke-width="1.4"/>
<line x1="358.5" y1="343.6" x2="368.5" y2="343.6" stroke="#000" stroke-width="1.4"/>
<path d="M360.1 315.1L363.4 318.4L360.1 321.7L356.8 318.4Z" fill="#000"/>
<path d="M365.5 322L368.8 325.3L365.5 328.6L362.2 325.3Z" fill="#000"/>
<path d="M358.6 328.1L361.9 331.4L358.6 334.7L355.3 331.4Z" fill="#000"/>
<path d="M363.8 331.2L367.1 334.5L363.8 337.8L360.5 334.5Z" fill="#000"/>
<path d="M362.8 332.7L366.1 336L362.8 339.3L359.5 336Z" fill="#000"/>
<path d="M360.7 340.1L364 343.4L360.7 346.7L357.4 343.4Z" fill="#000"/>
<line x1="418.7" y1="251.5" x2="492.4" y2="251.5" stroke="#2a00f5" stroke-width="1.3"/>
<line x1="455.2" y1="226" x2="455.2" y2="275.3" stroke="#2a00f5" stroke-width="1.4"/>
<line x1="450.5" y1="226" x2="460" y2="226" stroke="#2a00f5" stroke-width="1.4"/>
<line x1="450.5" y1="275.3" x2="460" y2="275.3" stroke="#2a00f5" stroke-width="1.4"/>
<path d="M452.7 222.7L456 226L452.7 229.3L449.4 226Z" fill="#2a00f5"/>
<path d="M462.8 232.3L466.1 235.6L462.8 238.9L459.5 235.6Z" fill="#2a00f5"/>
<path d="M448.5 247.5L451.8 250.8L448.5 254.1L445.2 250.8Z" fill="#2a00f5"/>
<path d="M459 257.1L462.3 260.4L459 263.7L455.7 260.4Z" fill="#2a00f5"/>
<path d="M448.5 258.6L451.8 261.9L448.5 265.2L445.2 261.9Z" fill="#2a00f5"/>
<path d="M454.2 272L457.5 275.3L454.2 278.6L450.9 275.3Z" fill="#2a00f5"/>
<text x="455.4" y="299.8" font-size="20" font-weight="normal" font-style="normal" fill="#000" text-anchor="middle" stroke="#000" stroke-width="0.45">***</text>
<text x="362.8" y="368.2" font-size="10.5" font-weight="bold" font-style="normal" fill="#000" text-anchor="middle" >WT</text>
<text x="455.7" y="369" font-size="11" font-weight="bold" font-style="italic" fill="#2a00f5" text-anchor="middle" >fro/fro</text>
<text x="510" y="217.1" font-size="13" font-weight="bold" font-style="normal" fill="#000" text-anchor="start" >F</text>
<line x1="550.4" y1="216.6" x2="550.4" y2="361.6" stroke="#555" stroke-width="1.7"/>
<line x1="549.8" y1="360.8" x2="745.6" y2="360.8" stroke="#555" stroke-width="1.8"/>
<line x1="548" y1="217.32" x2="550.4" y2="217.32" stroke="#333" stroke-width="1.3"/>
<text x="545.5" y="220.92" font-size="11" font-weight="bold" font-style="normal" fill="#000" text-anchor="end" >1.2</text>
<line x1="548" y1="288.96" x2="550.4" y2="288.96" stroke="#333" stroke-width="1.3"/>
<text x="545.5" y="292.56" font-size="11" font-weight="bold" font-style="normal" fill="#000" text-anchor="end" >0.6</text>
<line x1="548" y1="360.6" x2="550.4" y2="360.6" stroke="#333" stroke-width="1.3"/>
<text x="545.5" y="364.2" font-size="11" font-weight="bold" font-style="normal" fill="#000" text-anchor="end" >0.0</text>
<line x1="548" y1="253.14" x2="550.4" y2="253.14" stroke="#000" stroke-width="1"/>
<line x1="548" y1="324.78" x2="550.4" y2="324.78" stroke="#000" stroke-width="1"/>
<line x1="556.21" y1="360.8" x2="556.21" y2="362.8" stroke="#000" stroke-width="1"/>
<line x1="566.66" y1="360.8" x2="566.66" y2="364" stroke="#000" stroke-width="1.2"/>
<text x="566.66" y="375.1" font-size="11" font-weight="bold" font-style="normal" fill="#000" text-anchor="middle" >20</text>
<line x1="577.12" y1="360.8" x2="577.12" y2="362.8" stroke="#000" stroke-width="1"/>
<line x1="587.57" y1="360.8" x2="587.57" y2="364" stroke="#000" stroke-width="1.2"/>
<text x="587.57" y="375.1" font-size="11" font-weight="bold" font-style="normal" fill="#000" text-anchor="middle" >40</text>
<line x1="598.02" y1="360.8" x2="598.02" y2="362.8" stroke="#000" stroke-width="1"/>
<line x1="608.48" y1="360.8" x2="608.48" y2="364" stroke="#000" stroke-width="1.2"/>
<text x="608.48" y="375.1" font-size="11" font-weight="bold" font-style="normal" fill="#000" text-anchor="middle" >60</text>
<line x1="618.93" y1="360.8" x2="618.93" y2="362.8" stroke="#000" stroke-width="1"/>
<line x1="629.39" y1="360.8" x2="629.39" y2="364" stroke="#000" stroke-width="1.2"/>
<text x="629.39" y="375.1" font-size="11" font-weight="bold" font-style="normal" fill="#000" text-anchor="middle" >80</text>
<line x1="639.85" y1="360.8" x2="639.85" y2="362.8" stroke="#000" stroke-width="1"/>
<line x1="650.3" y1="360.8" x2="650.3" y2="364" stroke="#000" stroke-width="1.2"/>
<text x="650.3" y="375.1" font-size="11" font-weight="bold" font-style="normal" fill="#000" text-anchor="middle" >100</text>
<line x1="660.75" y1="360.8" x2="660.75" y2="362.8" stroke="#000" stroke-width="1"/>
<line x1="671.21" y1="360.8" x2="671.21" y2="364" stroke="#000" stroke-width="1.2"/>
<text x="671.21" y="375.1" font-size="11" font-weight="bold" font-style="normal" fill="#000" text-anchor="middle" >120</text>
<line x1="681.66" y1="360.8" x2="681.66" y2="362.8" stroke="#000" stroke-width="1"/>
<line x1="692.12" y1="360.8" x2="692.12" y2="364" stroke="#000" stroke-width="1.2"/>
<text x="692.12" y="375.1" font-size="11" font-weight="bold" font-style="normal" fill="#000" text-anchor="middle" >140</text>
<line x1="702.58" y1="360.8" x2="702.58" y2="362.8" stroke="#000" stroke-width="1"/>
<line x1="713.03" y1="360.8" x2="713.03" y2="364" stroke="#000" stroke-width="1.2"/>
<text x="713.03" y="375.1" font-size="11" font-weight="bold" font-style="normal" fill="#000" text-anchor="middle" >160</text>
<line x1="723.49" y1="360.8" x2="723.49" y2="362.8" stroke="#000" stroke-width="1"/>
<line x1="733.94" y1="360.8" x2="733.94" y2="364" stroke="#000" stroke-width="1.2"/>
<text x="733.94" y="375.1" font-size="11" font-weight="bold" font-style="normal" fill="#000" text-anchor="middle" >180</text>
<text transform="translate(522.8,285.1) rotate(-90)" x="0" y="0" font-size="11" font-weight="bold" fill="#000" text-anchor="middle">Normalized current</text>
<text x="656.2" y="392.6" font-size="11" font-weight="bold" font-style="normal" fill="#000" text-anchor="middle" >Time (ms)</text>
<polyline points="556.21,244.1 566.66,245.8 577.12,247.8 587.57,249.5 598.02,250.8 608.48,252.1 618.93,251.8 629.39,253.9 639.85,254.9 650.3,256.9 660.75,257.5 671.21,259.4 681.66,259.8 692.12,259.4 702.58,261 713.03,262.8 723.49,263 733.94,263.8" fill="none" stroke="#000" stroke-width="1.2" stroke-linejoin="round" stroke-dasharray="4 1.5"/>
<line x1="556.21" y1="243.3" x2="556.21" y2="244.9" stroke="#000" stroke-width="1.2"/>
<line x1="553.21" y1="243.3" x2="559.21" y2="243.3" stroke="#000" stroke-width="1.2"/>
<line x1="553.21" y1="244.9" x2="559.21" y2="244.9" stroke="#000" stroke-width="1.2"/>
<rect x="554" y="241.9" width="4.4" height="4.4" fill="#000"/>
<line x1="566.66" y1="244.8" x2="566.66" y2="246.8" stroke="#000" stroke-width="1.2"/>
<line x1="563.66" y1="244.8" x2="569.66" y2="244.8" stroke="#000" stroke-width="1.2"/>
<line x1="563.66" y1="246.8" x2="569.66" y2="246.8" stroke="#000" stroke-width="1.2"/>
<rect x="564.46" y="243.6" width="4.4" height="4.4" fill="#000"/>
<line x1="577.12" y1="246.6" x2="577.12" y2="249" stroke="#000" stroke-width="1.2"/>
<line x1="574.12" y1="246.6" x2="580.12" y2="246.6" stroke="#000" stroke-width="1.2"/>
<line x1="574.12" y1="249" x2="580.12" y2="249" stroke="#000" stroke-width="1.2"/>
<rect x="574.91" y="245.6" width="4.4" height="4.4" fill="#000"/>
<line x1="587.57" y1="247.9" x2="587.57" y2="251.1" stroke="#000" stroke-width="1.2"/>
<line x1="584.57" y1="247.9" x2="590.57" y2="247.9" stroke="#000" stroke-width="1.2"/>
<line x1="584.57" y1="251.1" x2="590.57" y2="251.1" stroke="#000" stroke-width="1.2"/>
<rect x="585.37" y="247.3" width="4.4" height="4.4" fill="#000"/>
<line x1="598.02" y1="248.8" x2="598.02" y2="252.8" stroke="#000" stroke-width="1.2"/>
<line x1="595.02" y1="248.8" x2="601.02" y2="248.8" stroke="#000" stroke-width="1.2"/>
<line x1="595.02" y1="252.8" x2="601.02" y2="252.8" stroke="#000" stroke-width="1.2"/>
<rect x="595.82" y="248.6" width="4.4" height="4.4" fill="#000"/>
<line x1="608.48" y1="249.5" x2="608.48" y2="254.7" stroke="#000" stroke-width="1.2"/>
<line x1="605.48" y1="249.5" x2="611.48" y2="249.5" stroke="#000" stroke-width="1.2"/>
<line x1="605.48" y1="254.7" x2="611.48" y2="254.7" stroke="#000" stroke-width="1.2"/>
<rect x="606.28" y="249.9" width="4.4" height="4.4" fill="#000"/>
<line x1="618.93" y1="248.7" x2="618.93" y2="254.9" stroke="#000" stroke-width="1.2"/>
<line x1="615.93" y1="248.7" x2="621.93" y2="248.7" stroke="#000" stroke-width="1.2"/>
<line x1="615.93" y1="254.9" x2="621.93" y2="254.9" stroke="#000" stroke-width="1.2"/>
<rect x="616.73" y="249.6" width="4.4" height="4.4" fill="#000"/>
<line x1="629.39" y1="250.5" x2="629.39" y2="257.3" stroke="#000" stroke-width="1.2"/>
<line x1="626.39" y1="250.5" x2="632.39" y2="250.5" stroke="#000" stroke-width="1.2"/>
<line x1="626.39" y1="257.3" x2="632.39" y2="257.3" stroke="#000" stroke-width="1.2"/>
<rect x="627.19" y="251.7" width="4.4" height="4.4" fill="#000"/>
<line x1="639.85" y1="251.3" x2="639.85" y2="258.5" stroke="#000" stroke-width="1.2"/>
<line x1="636.85" y1="251.3" x2="642.85" y2="251.3" stroke="#000" stroke-width="1.2"/>
<line x1="636.85" y1="258.5" x2="642.85" y2="258.5" stroke="#000" stroke-width="1.2"/>
<rect x="637.64" y="252.7" width="4.4" height="4.4" fill="#000"/>
<line x1="650.3" y1="253.5" x2="650.3" y2="260.3" stroke="#000" stroke-width="1.2"/>
<line x1="647.3" y1="253.5" x2="653.3" y2="253.5" stroke="#000" stroke-width="1.2"/>
<line x1="647.3" y1="260.3" x2="653.3" y2="260.3" stroke="#000" stroke-width="1.2"/>
<rect x="648.1" y="254.7" width="4.4" height="4.4" fill="#000"/>
<line x1="660.75" y1="253.9" x2="660.75" y2="261.1" stroke="#000" stroke-width="1.2"/>
<line x1="657.75" y1="253.9" x2="663.75" y2="253.9" stroke="#000" stroke-width="1.2"/>
<line x1="657.75" y1="261.1" x2="663.75" y2="261.1" stroke="#000" stroke-width="1.2"/>
<rect x="658.55" y="255.3" width="4.4" height="4.4" fill="#000"/>
<line x1="671.21" y1="255.4" x2="671.21" y2="263.4" stroke="#000" stroke-width="1.2"/>
<line x1="668.21" y1="255.4" x2="674.21" y2="255.4" stroke="#000" stroke-width="1.2"/>
<line x1="668.21" y1="263.4" x2="674.21" y2="263.4" stroke="#000" stroke-width="1.2"/>
<rect x="669.01" y="257.2" width="4.4" height="4.4" fill="#000"/>
<line x1="681.66" y1="255.4" x2="681.66" y2="264.2" stroke="#000" stroke-width="1.2"/>
<line x1="678.66" y1="255.4" x2="684.66" y2="255.4" stroke="#000" stroke-width="1.2"/>
<line x1="678.66" y1="264.2" x2="684.66" y2="264.2" stroke="#000" stroke-width="1.2"/>
<rect x="679.46" y="257.6" width="4.4" height="4.4" fill="#000"/>
<line x1="692.12" y1="254.5" x2="692.12" y2="264.3" stroke="#000" stroke-width="1.2"/>
<line x1="689.12" y1="254.5" x2="695.12" y2="254.5" stroke="#000" stroke-width="1.2"/>
<line x1="689.12" y1="264.3" x2="695.12" y2="264.3" stroke="#000" stroke-width="1.2"/>
<rect x="689.92" y="257.2" width="4.4" height="4.4" fill="#000"/>
<line x1="702.58" y1="255.6" x2="702.58" y2="266.4" stroke="#000" stroke-width="1.2"/>
<line x1="699.58" y1="255.6" x2="705.58" y2="255.6" stroke="#000" stroke-width="1.2"/>
<line x1="699.58" y1="266.4" x2="705.58" y2="266.4" stroke="#000" stroke-width="1.2"/>
<rect x="700.38" y="258.8" width="4.4" height="4.4" fill="#000"/>
<line x1="713.03" y1="256.9" x2="713.03" y2="268.7" stroke="#000" stroke-width="1.2"/>
<line x1="710.03" y1="256.9" x2="716.03" y2="256.9" stroke="#000" stroke-width="1.2"/>
<line x1="710.03" y1="268.7" x2="716.03" y2="268.7" stroke="#000" stroke-width="1.2"/>
<rect x="710.83" y="260.6" width="4.4" height="4.4" fill="#000"/>
<line x1="723.49" y1="257.6" x2="723.49" y2="268.4" stroke="#000" stroke-width="1.2"/>
<line x1="720.49" y1="257.6" x2="726.49" y2="257.6" stroke="#000" stroke-width="1.2"/>
<line x1="720.49" y1="268.4" x2="726.49" y2="268.4" stroke="#000" stroke-width="1.2"/>
<rect x="721.28" y="260.8" width="4.4" height="4.4" fill="#000"/>
<line x1="733.94" y1="257.6" x2="733.94" y2="270" stroke="#000" stroke-width="1.2"/>
<line x1="730.94" y1="257.6" x2="736.94" y2="257.6" stroke="#000" stroke-width="1.2"/>
<line x1="730.94" y1="270" x2="736.94" y2="270" stroke="#000" stroke-width="1.2"/>
<rect x="731.74" y="261.6" width="4.4" height="4.4" fill="#000"/>
<polyline points="556.21,250.3 566.66,289.2 577.12,302.6 587.57,322.7 598.02,334.5 608.48,342.5 618.93,352.6 629.39,357.5 639.85,358.6 650.3,359.6 660.75,359.6 671.21,359.6 681.66,358.6 692.12,359.6 702.58,359.6 713.03,359.6 723.49,359.6 733.94,359.6" fill="none" stroke="#2a00f5" stroke-width="1.2" stroke-linejoin="round" />
<line x1="556.21" y1="248.1" x2="556.21" y2="252.5" stroke="#2a00f5" stroke-width="1.2"/>
<line x1="553.61" y1="248.1" x2="558.81" y2="248.1" stroke="#2a00f5" stroke-width="1.2"/>
<line x1="553.61" y1="252.5" x2="558.81" y2="252.5" stroke="#2a00f5" stroke-width="1.2"/>
<rect x="553.91" y="248" width="4.6" height="4.6" fill="#2a00f5"/>
<line x1="566.66" y1="287.2" x2="566.66" y2="291.2" stroke="#2a00f5" stroke-width="1.2"/>
<line x1="564.06" y1="287.2" x2="569.26" y2="287.2" stroke="#2a00f5" stroke-width="1.2"/>
<line x1="564.06" y1="291.2" x2="569.26" y2="291.2" stroke="#2a00f5" stroke-width="1.2"/>
<rect x="564.36" y="286.9" width="4.6" height="4.6" fill="#2a00f5"/>
<line x1="577.12" y1="300.6" x2="577.12" y2="304.6" stroke="#2a00f5" stroke-width="1.2"/>
<line x1="574.51" y1="300.6" x2="579.72" y2="300.6" stroke="#2a00f5" stroke-width="1.2"/>
<line x1="574.51" y1="304.6" x2="579.72" y2="304.6" stroke="#2a00f5" stroke-width="1.2"/>
<rect x="574.82" y="300.3" width="4.6" height="4.6" fill="#2a00f5"/>
<line x1="587.57" y1="320.9" x2="587.57" y2="324.5" stroke="#2a00f5" stroke-width="1.2"/>
<line x1="584.97" y1="320.9" x2="590.17" y2="320.9" stroke="#2a00f5" stroke-width="1.2"/>
<line x1="584.97" y1="324.5" x2="590.17" y2="324.5" stroke="#2a00f5" stroke-width="1.2"/>
<rect x="585.27" y="320.4" width="4.6" height="4.6" fill="#2a00f5"/>
<line x1="598.02" y1="332.7" x2="598.02" y2="336.3" stroke="#2a00f5" stroke-width="1.2"/>
<line x1="595.42" y1="332.7" x2="600.62" y2="332.7" stroke="#2a00f5" stroke-width="1.2"/>
<line x1="595.42" y1="336.3" x2="600.62" y2="336.3" stroke="#2a00f5" stroke-width="1.2"/>
<rect x="595.73" y="332.2" width="4.6" height="4.6" fill="#2a00f5"/>
<line x1="608.48" y1="340.7" x2="608.48" y2="344.3" stroke="#2a00f5" stroke-width="1.2"/>
<line x1="605.88" y1="340.7" x2="611.08" y2="340.7" stroke="#2a00f5" stroke-width="1.2"/>
<line x1="605.88" y1="344.3" x2="611.08" y2="344.3" stroke="#2a00f5" stroke-width="1.2"/>
<rect x="606.18" y="340.2" width="4.6" height="4.6" fill="#2a00f5"/>
<line x1="618.93" y1="351.4" x2="618.93" y2="353.8" stroke="#2a00f5" stroke-width="1.2"/>
<line x1="616.33" y1="351.4" x2="621.53" y2="351.4" stroke="#2a00f5" stroke-width="1.2"/>
<line x1="616.33" y1="353.8" x2="621.53" y2="353.8" stroke="#2a00f5" stroke-width="1.2"/>
<rect x="616.63" y="350.3" width="4.6" height="4.6" fill="#2a00f5"/>
<line x1="629.39" y1="356.7" x2="629.39" y2="358.3" stroke="#2a00f5" stroke-width="1.2"/>
<line x1="626.79" y1="356.7" x2="631.99" y2="356.7" stroke="#2a00f5" stroke-width="1.2"/>
<line x1="626.79" y1="358.3" x2="631.99" y2="358.3" stroke="#2a00f5" stroke-width="1.2"/>
<circle cx="629.39" cy="357.5" r="2.7" fill="#2a00f5"/>
<line x1="639.85" y1="357.8" x2="639.85" y2="359.4" stroke="#2a00f5" stroke-width="1.2"/>
<line x1="637.25" y1="357.8" x2="642.45" y2="357.8" stroke="#2a00f5" stroke-width="1.2"/>
<line x1="637.25" y1="359.4" x2="642.45" y2="359.4" stroke="#2a00f5" stroke-width="1.2"/>
<circle cx="639.85" cy="358.6" r="2.7" fill="#2a00f5"/>
<line x1="650.3" y1="359" x2="650.3" y2="360.2" stroke="#2a00f5" stroke-width="1.2"/>
<line x1="647.7" y1="359" x2="652.9" y2="359" stroke="#2a00f5" stroke-width="1.2"/>
<line x1="647.7" y1="360.2" x2="652.9" y2="360.2" stroke="#2a00f5" stroke-width="1.2"/>
<circle cx="650.3" cy="359.6" r="2.7" fill="#2a00f5"/>
<line x1="660.75" y1="359" x2="660.75" y2="360.2" stroke="#2a00f5" stroke-width="1.2"/>
<line x1="658.15" y1="359" x2="663.36" y2="359" stroke="#2a00f5" stroke-width="1.2"/>
<line x1="658.15" y1="360.2" x2="663.36" y2="360.2" stroke="#2a00f5" stroke-width="1.2"/>
<circle cx="660.75" cy="359.6" r="2.7" fill="#2a00f5"/>
<line x1="671.21" y1="359" x2="671.21" y2="360.2" stroke="#2a00f5" stroke-width="1.2"/>
<line x1="668.61" y1="359" x2="673.81" y2="359" stroke="#2a00f5" stroke-width="1.2"/>
<line x1="668.61" y1="360.2" x2="673.81" y2="360.2" stroke="#2a00f5" stroke-width="1.2"/>
<circle cx="671.21" cy="359.6" r="2.7" fill="#2a00f5"/>
<line x1="681.66" y1="358" x2="681.66" y2="359.2" stroke="#2a00f5" stroke-width="1.2"/>
<line x1="679.06" y1="358" x2="684.26" y2="358" stroke="#2a00f5" stroke-width="1.2"/>
<line x1="679.06" y1="359.2" x2="684.26" y2="359.2" stroke="#2a00f5" stroke-width="1.2"/>
<circle cx="681.66" cy="358.6" r="2.7" fill="#2a00f5"/>
<line x1="692.12" y1="359" x2="692.12" y2="360.2" stroke="#2a00f5" stroke-width="1.2"/>
<line x1="689.52" y1="359" x2="694.72" y2="359" stroke="#2a00f5" stroke-width="1.2"/>
<line x1="689.52" y1="360.2" x2="694.72" y2="360.2" stroke="#2a00f5" stroke-width="1.2"/>
<circle cx="692.12" cy="359.6" r="2.7" fill="#2a00f5"/>
<line x1="702.58" y1="359" x2="702.58" y2="360.2" stroke="#2a00f5" stroke-width="1.2"/>
<line x1="699.98" y1="359" x2="705.18" y2="359" stroke="#2a00f5" stroke-width="1.2"/>
<line x1="699.98" y1="360.2" x2="705.18" y2="360.2" stroke="#2a00f5" stroke-width="1.2"/>
<circle cx="702.58" cy="359.6" r="2.7" fill="#2a00f5"/>
<line x1="713.03" y1="359" x2="713.03" y2="360.2" stroke="#2a00f5" stroke-width="1.2"/>
<line x1="710.43" y1="359" x2="715.63" y2="359" stroke="#2a00f5" stroke-width="1.2"/>
<line x1="710.43" y1="360.2" x2="715.63" y2="360.2" stroke="#2a00f5" stroke-width="1.2"/>
<circle cx="713.03" cy="359.6" r="2.7" fill="#2a00f5"/>
<line x1="723.49" y1="359" x2="723.49" y2="360.2" stroke="#2a00f5" stroke-width="1.2"/>
<line x1="720.88" y1="359" x2="726.09" y2="359" stroke="#2a00f5" stroke-width="1.2"/>
<line x1="720.88" y1="360.2" x2="726.09" y2="360.2" stroke="#2a00f5" stroke-width="1.2"/>
<circle cx="723.49" cy="359.6" r="2.7" fill="#2a00f5"/>
<line x1="733.94" y1="359" x2="733.94" y2="360.2" stroke="#2a00f5" stroke-width="1.2"/>
<line x1="731.34" y1="359" x2="736.54" y2="359" stroke="#2a00f5" stroke-width="1.2"/>
<line x1="731.34" y1="360.2" x2="736.54" y2="360.2" stroke="#2a00f5" stroke-width="1.2"/>
<circle cx="733.94" cy="359.6" r="2.7" fill="#2a00f5"/>
<text transform="translate(563.5,266.1) rotate(90)" x="0" y="0" font-size="14.2" fill="#000" stroke="#000" stroke-width="0.3">***</text>
<text transform="translate(572.8,280.3) rotate(90)" x="0" y="0" font-size="14.2" fill="#000" stroke="#000" stroke-width="0.3">***</text>
<text transform="translate(582.7,300.2) rotate(90)" x="0" y="0" font-size="14.2" fill="#000" stroke="#000" stroke-width="0.3">***</text>
<text transform="translate(593.3,312.4) rotate(90)" x="0" y="0" font-size="14.2" fill="#000" stroke="#000" stroke-width="0.3">***</text>
<text transform="translate(603.5,320.7) rotate(90)" x="0" y="0" font-size="14.2" fill="#000" stroke="#000" stroke-width="0.3">***</text>
<text transform="translate(614.6,331.4) rotate(90)" x="0" y="0" font-size="14.2" fill="#000" stroke="#000" stroke-width="0.3">***</text>
<text transform="translate(624.6,336.6) rotate(90)" x="0" y="0" font-size="14.2" fill="#000" stroke="#000" stroke-width="0.3">***</text>
<text transform="translate(635,338) rotate(90)" x="0" y="0" font-size="14.2" fill="#000" stroke="#000" stroke-width="0.3">***</text>
<text transform="translate(645.3,338.6) rotate(90)" x="0" y="0" font-size="14.2" fill="#000" stroke="#000" stroke-width="0.3">***</text>
<text transform="translate(655.1,338.6) rotate(90)" x="0" y="0" font-size="14.2" fill="#000" stroke="#000" stroke-width="0.3">***</text>
<text transform="translate(665.3,338.6) rotate(90)" x="0" y="0" font-size="14.2" fill="#000" stroke="#000" stroke-width="0.3">***</text>
<text transform="translate(675.3,338.6) rotate(90)" x="0" y="0" font-size="14.2" fill="#000" stroke="#000" stroke-width="0.3">***</text>
<text transform="translate(686.2,338.6) rotate(90)" x="0" y="0" font-size="14.2" fill="#000" stroke="#000" stroke-width="0.3">***</text>
<text transform="translate(696.8,338.6) rotate(90)" x="0" y="0" font-size="14.2" fill="#000" stroke="#000" stroke-width="0.3">***</text>
<text transform="translate(707.4,338.6) rotate(90)" x="0" y="0" font-size="14.2" fill="#000" stroke="#000" stroke-width="0.3">***</text>
<text transform="translate(718.3,338.6) rotate(90)" x="0" y="0" font-size="14.2" fill="#000" stroke="#000" stroke-width="0.3">***</text>
<text transform="translate(728.2,338.6) rotate(90)" x="0" y="0" font-size="14.2" fill="#000" stroke="#000" stroke-width="0.3">***</text>
<text x="652.5" y="244.1" font-size="10.5" font-weight="bold" font-style="normal" fill="#000" text-anchor="end" >WT</text>
<text x="618.3" y="320.8" font-size="11.1" font-weight="bold" font-style="italic" fill="#2a00f5" text-anchor="start" >fro/fro</text>
<text x="268.8" y="394.7" font-size="13" font-weight="bold" font-style="normal" fill="#000" text-anchor="start" >H</text>
<rect x="317.2" y="429.3" width="79.6" height="104.6" fill="#000"/>
<rect x="416.9" y="450.6" width="79.6" height="83.3" fill="#2800f5"/>
<line x1="307.4" y1="386.6" x2="307.4" y2="534.5" stroke="#000" stroke-width="1.3"/>
<line x1="302.2" y1="387.2" x2="307.4" y2="387.2" stroke="#000" stroke-width="1.2"/>
<text x="297.4" y="390.2" font-size="8.6" font-weight="bold" font-style="normal" fill="#000" text-anchor="end" >24</text>
<line x1="302.2" y1="460.55" x2="307.4" y2="460.55" stroke="#000" stroke-width="1.2"/>
<text x="297.4" y="463.55" font-size="8.6" font-weight="bold" font-style="normal" fill="#000" text-anchor="end" >12</text>
<line x1="302.2" y1="533.9" x2="307.4" y2="533.9" stroke="#000" stroke-width="1.2"/>
<text x="297.4" y="536.9" font-size="8.6" font-weight="bold" font-style="normal" fill="#000" text-anchor="end" >0</text>
<line x1="305.2" y1="423.88" x2="307.4" y2="423.88" stroke="#000" stroke-width="1"/>
<line x1="305.2" y1="497.22" x2="307.4" y2="497.22" stroke="#000" stroke-width="1"/>
<text transform="translate(287.2,466.9) rotate(-90)" x="0" y="0" font-size="10.5" font-weight="bold" fill="#000" text-anchor="middle">Time to peak (ms)</text>
<line x1="357.1" y1="419.4" x2="357.1" y2="429.5" stroke="#000" stroke-width="1.3"/>
<line x1="353.7" y1="419.4" x2="360.8" y2="419.4" stroke="#000" stroke-width="1.3"/>
<circle cx="357.1" cy="390.9" r="2.75" fill="#fff" stroke="#000" stroke-width="0.8"/>
<circle cx="357.1" cy="417.2" r="2.75" fill="#fff" stroke="#000" stroke-width="0.8"/>
<circle cx="357.1" cy="422.8" r="2.75" fill="#fff" stroke="#000" stroke-width="0.8"/>
<circle cx="357.1" cy="439.7" r="2.75" fill="#fff" stroke="#000" stroke-width="0.8"/>
<circle cx="357.1" cy="450.9" r="2.75" fill="#fff" stroke="#000" stroke-width="0.8"/>
<circle cx="357.1" cy="455.2" r="2.75" fill="#fff" stroke="#000" stroke-width="0.8"/>
<line x1="456.4" y1="442.7" x2="456.4" y2="451" stroke="#000" stroke-width="1.2"/>
<line x1="453.2" y1="444.5" x2="459.6" y2="444.5" stroke="#000" stroke-width="1.2"/>
<circle cx="456.4" cy="429.4" r="2.8" fill="#fff" stroke="#000" stroke-width="0.8"/>
<circle cx="456.4" cy="440" r="2.8" fill="#fff" stroke="#000" stroke-width="0.8"/>
<circle cx="456.4" cy="442.7" r="2.8" fill="#fff" stroke="#000" stroke-width="0.8"/>
<circle cx="456.4" cy="451.8" r="2.8" fill="#fff" stroke="#000" stroke-width="0.8"/>
<circle cx="456.4" cy="468.8" r="2.8" fill="#fff" stroke="#000" stroke-width="0.8"/>
<circle cx="456.4" cy="471" r="2.8" fill="#fff" stroke="#000" stroke-width="0.8"/>
<text x="359.8" y="555.8" font-size="10.5" font-weight="bold" font-style="normal" fill="#000" text-anchor="middle" >WT</text>
<text x="454" y="555.9" font-size="11.1" font-weight="bold" font-style="italic" fill="#2a00f5" text-anchor="middle" >fro/fro</text>
<text x="507.2" y="410.4" font-size="13" font-weight="bold" font-style="normal" fill="#000" text-anchor="start" >G</text>
<rect x="570.4" y="445.2" width="76.4" height="107.4" fill="#000"/>
<rect x="666" y="543" width="76.4" height="10" fill="#2800f5"/>
<line x1="560.6" y1="412.2" x2="560.6" y2="553.2" stroke="#444" stroke-width="1.5"/>
<line x1="555.6" y1="412.4" x2="560.6" y2="412.4" stroke="#000" stroke-width="1.2"/>
<text transform="translate(552,415.8) scale(1.06,1)" font-size="10.4" font-weight="bold" font-style="normal" fill="#000" text-anchor="end" >200</text>
<line x1="555.6" y1="482.5" x2="560.6" y2="482.5" stroke="#000" stroke-width="1.2"/>
<text transform="translate(552,485.9) scale(1.06,1)" font-size="10.4" font-weight="bold" font-style="normal" fill="#000" text-anchor="end" >100</text>
<line x1="555.6" y1="552.6" x2="560.6" y2="552.6" stroke="#000" stroke-width="1.2"/>
<text transform="translate(552,556) scale(1.06,1)" font-size="10.4" font-weight="bold" font-style="normal" fill="#000" text-anchor="end" >0</text>
<line x1="558" y1="447.45" x2="560.6" y2="447.45" stroke="#000" stroke-width="1"/>
<line x1="558" y1="517.55" x2="560.6" y2="517.55" stroke="#000" stroke-width="1"/>
<text transform="translate(524.3,477.5) rotate(-90)" x="0" y="0" font-size="10.8" font-weight="bold" fill="#000" text-anchor="middle">20% decay time (ms)</text>
<line x1="608.9" y1="431.1" x2="608.9" y2="445.5" stroke="#000" stroke-width="1.5"/>
<line x1="603.9" y1="431.1" x2="613.7" y2="431.1" stroke="#000" stroke-width="1.6"/>
<circle cx="608.9" cy="421.4" r="2.6" fill="#fff" stroke="#000" stroke-width="0.8"/>
<circle cx="608.9" cy="424.4" r="2.6" fill="#fff" stroke="#000" stroke-width="0.8"/>
<circle cx="608.5" cy="473.3" r="2.6" fill="#fff"/>
<circle cx="608.5" cy="504" r="2.6" fill="#fff"/>
<line x1="699.8" y1="543" x2="708.6" y2="543" stroke="#000" stroke-width="1.4"/>
<circle cx="703.8" cy="543" r="3.1" fill="#fff" stroke="#000" stroke-width="0.9"/>
<text x="704.1" y="538.4" font-size="11" font-weight="bold" font-style="normal" fill="#000" text-anchor="middle" >***</text>
<text x="603" y="565.8" font-size="10.5" font-weight="bold" font-style="normal" fill="#000" text-anchor="middle" >WT</text>
<text x="702.8" y="566" font-size="11.1" font-weight="bold" font-style="italic" fill="#2a00f5" text-anchor="middle" >fro/fro</text>
</svg>
</body></html>
